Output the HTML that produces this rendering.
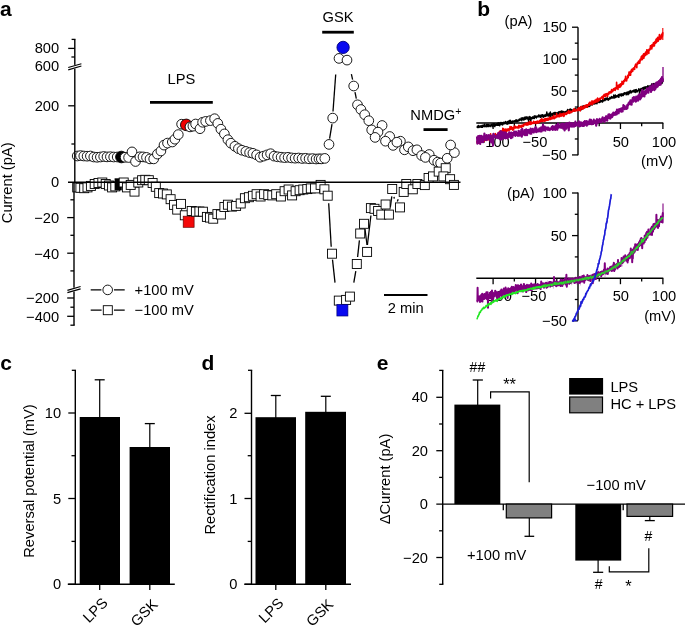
<!DOCTYPE html>
<html><head><meta charset="utf-8"><title>Figure</title>
<style>html,body{margin:0;padding:0;background:#fff;}body{width:685px;height:625px;overflow:hidden;font-family:"Liberation Sans",sans-serif;}svg{will-change:transform;}svg text{font-family:"Liberation Sans",sans-serif;}</style>
</head><body>
<svg width="685" height="625" viewBox="0 0 685 625" style="display:block" font-family="Liberation Sans, sans-serif" fill="#000">
<rect width="685" height="625" fill="#fff"/>
<text x="0.00" y="16.20" font-size="21" text-anchor="start" font-weight="bold" >a</text>
<text x="477.30" y="16.00" font-size="21" text-anchor="start" font-weight="bold" >b</text>
<text x="0.30" y="369.50" font-size="21" text-anchor="start" font-weight="bold" >c</text>
<text x="201.50" y="369.70" font-size="21" text-anchor="start" font-weight="bold" >d</text>
<text x="376.80" y="369.80" font-size="21" text-anchor="start" font-weight="bold" >e</text>
<text x="59.20" y="53.40" font-size="14.7" text-anchor="end" font-weight="normal" >800</text>
<text x="59.20" y="71.20" font-size="14.7" text-anchor="end" font-weight="normal" >600</text>
<text x="59.20" y="110.80" font-size="14.7" text-anchor="end" font-weight="normal" >200</text>
<text x="59.20" y="187.40" font-size="14.7" text-anchor="end" font-weight="normal" >0</text>
<text x="59.20" y="222.80" font-size="14.7" text-anchor="end" font-weight="normal" >−20</text>
<text x="59.20" y="258.50" font-size="14.7" text-anchor="end" font-weight="normal" >−40</text>
<text x="59.20" y="303.40" font-size="14.7" text-anchor="end" font-weight="normal" >−200</text>
<text x="59.20" y="322.40" font-size="14.7" text-anchor="end" font-weight="normal" >−400</text>
<text transform="translate(11.9,182.8) rotate(-90)" font-size="14.7" text-anchor="middle">Current (pA)</text>
<line x1="150.00" y1="102.40" x2="212.80" y2="102.40" stroke="#000" stroke-width="2.8" />
<text x="181.40" y="83.50" font-size="14.7" text-anchor="middle" font-weight="normal" >LPS</text>
<line x1="322.20" y1="32.20" x2="353.80" y2="32.20" stroke="#000" stroke-width="2.8" />
<text x="338.00" y="21.80" font-size="14.7" text-anchor="middle" font-weight="normal" >GSK</text>
<line x1="423.50" y1="129.60" x2="447.60" y2="129.60" stroke="#000" stroke-width="2.8" />
<text x="410.30" y="120.40" font-size="14.7" text-anchor="start" font-weight="normal" >NMDG<tspan font-size="10.5" dy="-5.0">+</tspan></text>
<line x1="384.00" y1="295.00" x2="427.50" y2="295.00" stroke="#000" stroke-width="2.2" />
<text x="405.70" y="312.80" font-size="14.7" text-anchor="middle" font-weight="normal" >2 min</text>
<line x1="90.70" y1="289.90" x2="124.70" y2="289.90" stroke="#000" stroke-width="1.2" />
<circle cx="107.7" cy="289.9" r="6.4" fill="#fff"/>
<circle cx="107.7" cy="289.9" r="4.8" fill="#fff" stroke="#000" stroke-width="0.9"/>
<line x1="90.70" y1="310.20" x2="124.70" y2="310.20" stroke="#000" stroke-width="1.2" />
<rect x="101.6" y="304.0" width="12.4" height="12.4" fill="#fff"/>
<rect x="103.3" y="305.7" width="9.0" height="9.0" fill="#fff" stroke="#000" stroke-width="0.9"/>
<text x="134.60" y="295.20" font-size="14.7" text-anchor="start" font-weight="normal" >+100 mV</text>
<text x="134.60" y="314.60" font-size="14.7" text-anchor="start" font-weight="normal" >−100 mV</text>
<line x1="329.60" y1="138.60" x2="332.00" y2="124.20" stroke="#000" stroke-width="1.3" />
<line x1="333.00" y1="111.50" x2="335.70" y2="74.50" stroke="#000" stroke-width="1.3" />
<line x1="351.40" y1="74.20" x2="352.60" y2="79.60" stroke="#000" stroke-width="1.3" />
<line x1="355.00" y1="92.20" x2="356.30" y2="98.60" stroke="#000" stroke-width="1.3" />
<circle cx="77.2" cy="156" r="4.85" fill="#fff" stroke="#000" stroke-width="0.9"/>
<circle cx="80.5" cy="155.6" r="4.85" fill="#fff" stroke="#000" stroke-width="0.9"/>
<circle cx="83.8" cy="156" r="4.85" fill="#fff" stroke="#000" stroke-width="0.9"/>
<circle cx="87.1" cy="156.2" r="4.85" fill="#fff" stroke="#000" stroke-width="0.9"/>
<circle cx="90.4" cy="156" r="4.85" fill="#fff" stroke="#000" stroke-width="0.9"/>
<circle cx="93.8" cy="157.0" r="4.85" fill="#fff" stroke="#000" stroke-width="0.9"/>
<circle cx="97.1" cy="157.3" r="4.85" fill="#fff" stroke="#000" stroke-width="0.9"/>
<circle cx="100.4" cy="157.0" r="4.85" fill="#fff" stroke="#000" stroke-width="0.9"/>
<circle cx="103.7" cy="156.5" r="4.85" fill="#fff" stroke="#000" stroke-width="0.9"/>
<circle cx="107" cy="156.9" r="4.85" fill="#fff" stroke="#000" stroke-width="0.9"/>
<circle cx="110.4" cy="156.7" r="4.85" fill="#fff" stroke="#000" stroke-width="0.9"/>
<circle cx="113.7" cy="157" r="4.85" fill="#fff" stroke="#000" stroke-width="0.9"/>
<circle cx="117.2" cy="157.0" r="4.85" fill="#fff" stroke="#000" stroke-width="0.9"/>
<circle cx="121.4" cy="157.0" r="5.8" fill="#000" stroke="#000" stroke-width="0.9"/>
<circle cx="125.1" cy="157.3" r="4.85" fill="#fff" stroke="#000" stroke-width="0.9"/>
<circle cx="128.6" cy="157.5" r="4.85" fill="#fff" stroke="#000" stroke-width="0.9"/>
<circle cx="132.0" cy="151.9" r="4.85" fill="#fff" stroke="#000" stroke-width="0.9"/>
<circle cx="135.5" cy="161.5" r="4.85" fill="#fff" stroke="#000" stroke-width="0.9"/>
<circle cx="139.9" cy="156.8" r="4.85" fill="#fff" stroke="#000" stroke-width="0.9"/>
<circle cx="143" cy="156.9" r="4.85" fill="#fff" stroke="#000" stroke-width="0.9"/>
<circle cx="146.5" cy="157.4" r="4.85" fill="#fff" stroke="#000" stroke-width="0.9"/>
<circle cx="150" cy="158.9" r="4.85" fill="#fff" stroke="#000" stroke-width="0.9"/>
<circle cx="153.7" cy="158.9" r="4.85" fill="#fff" stroke="#000" stroke-width="0.9"/>
<circle cx="157.4" cy="154.1" r="4.85" fill="#fff" stroke="#000" stroke-width="0.9"/>
<circle cx="160.9" cy="151" r="4.85" fill="#fff" stroke="#000" stroke-width="0.9"/>
<circle cx="164" cy="145.1" r="4.85" fill="#fff" stroke="#000" stroke-width="0.9"/>
<circle cx="167.5" cy="143.1" r="4.85" fill="#fff" stroke="#000" stroke-width="0.9"/>
<circle cx="172.3" cy="142" r="4.85" fill="#fff" stroke="#000" stroke-width="0.9"/>
<circle cx="174.9" cy="139.2" r="4.85" fill="#fff" stroke="#000" stroke-width="0.9"/>
<circle cx="178.3" cy="134.6" r="4.85" fill="#fff" stroke="#000" stroke-width="0.9"/>
<circle cx="181.6" cy="124.2" r="4.85" fill="#fff" stroke="#000" stroke-width="0.9"/>
<circle cx="186.3" cy="124.9" r="5.8" fill="#f00000" stroke="#000" stroke-width="0.9"/>
<circle cx="190.0" cy="126.9" r="4.85" fill="#fff" stroke="#000" stroke-width="0.9"/>
<circle cx="192.9" cy="126.2" r="4.85" fill="#fff" stroke="#000" stroke-width="0.9"/>
<circle cx="195.6" cy="124.0" r="4.85" fill="#fff" stroke="#000" stroke-width="0.9"/>
<circle cx="200" cy="128.7" r="4.85" fill="#fff" stroke="#000" stroke-width="0.9"/>
<circle cx="202.6" cy="122.3" r="4.85" fill="#fff" stroke="#000" stroke-width="0.9"/>
<circle cx="205.7" cy="121.4" r="4.85" fill="#fff" stroke="#000" stroke-width="0.9"/>
<circle cx="210.4" cy="120.6" r="4.85" fill="#fff" stroke="#000" stroke-width="0.9"/>
<circle cx="214.6" cy="118.7" r="4.85" fill="#fff" stroke="#000" stroke-width="0.9"/>
<circle cx="217.8" cy="123.4" r="4.85" fill="#fff" stroke="#000" stroke-width="0.9"/>
<circle cx="220.9" cy="129.2" r="4.85" fill="#fff" stroke="#000" stroke-width="0.9"/>
<circle cx="224.4" cy="133.9" r="4.85" fill="#fff" stroke="#000" stroke-width="0.9"/>
<circle cx="227.9" cy="139.7" r="4.85" fill="#fff" stroke="#000" stroke-width="0.9"/>
<circle cx="230.9" cy="143.2" r="4.85" fill="#fff" stroke="#000" stroke-width="0.9"/>
<circle cx="234.9" cy="146.3" r="4.85" fill="#fff" stroke="#000" stroke-width="0.9"/>
<circle cx="238.4" cy="148.6" r="4.85" fill="#fff" stroke="#000" stroke-width="0.9"/>
<circle cx="241.9" cy="150.2" r="4.85" fill="#fff" stroke="#000" stroke-width="0.9"/>
<circle cx="245.9" cy="151.4" r="4.85" fill="#fff" stroke="#000" stroke-width="0.9"/>
<circle cx="249.6" cy="152.6" r="4.85" fill="#fff" stroke="#000" stroke-width="0.9"/>
<circle cx="252.9" cy="153.3" r="4.85" fill="#fff" stroke="#000" stroke-width="0.9"/>
<circle cx="256.6" cy="154.9" r="4.85" fill="#fff" stroke="#000" stroke-width="0.9"/>
<circle cx="260.1" cy="157.2" r="4.85" fill="#fff" stroke="#000" stroke-width="0.9"/>
<circle cx="263.6" cy="156.1" r="4.85" fill="#fff" stroke="#000" stroke-width="0.9"/>
<circle cx="267.1" cy="154.9" r="4.85" fill="#fff" stroke="#000" stroke-width="0.9"/>
<circle cx="270.6" cy="153.7" r="4.85" fill="#fff" stroke="#000" stroke-width="0.9"/>
<circle cx="274.1" cy="156.1" r="4.85" fill="#fff" stroke="#000" stroke-width="0.9"/>
<circle cx="277.6" cy="156.8" r="4.85" fill="#fff" stroke="#000" stroke-width="0.9"/>
<circle cx="281.1" cy="157.2" r="4.85" fill="#fff" stroke="#000" stroke-width="0.9"/>
<circle cx="284.6" cy="157.6" r="4.85" fill="#fff" stroke="#000" stroke-width="0.9"/>
<circle cx="288.1" cy="157.3" r="4.85" fill="#fff" stroke="#000" stroke-width="0.9"/>
<circle cx="291.6" cy="157.9" r="4.85" fill="#fff" stroke="#000" stroke-width="0.9"/>
<circle cx="295.1" cy="158.2" r="4.85" fill="#fff" stroke="#000" stroke-width="0.9"/>
<circle cx="298.6" cy="158.0" r="4.85" fill="#fff" stroke="#000" stroke-width="0.9"/>
<circle cx="302.1" cy="158.5" r="4.85" fill="#fff" stroke="#000" stroke-width="0.9"/>
<circle cx="305.6" cy="158.3" r="4.85" fill="#fff" stroke="#000" stroke-width="0.9"/>
<circle cx="309.1" cy="158.8" r="4.85" fill="#fff" stroke="#000" stroke-width="0.9"/>
<circle cx="312.6" cy="158.6" r="4.85" fill="#fff" stroke="#000" stroke-width="0.9"/>
<circle cx="316.1" cy="159.0" r="4.85" fill="#fff" stroke="#000" stroke-width="0.9"/>
<circle cx="319.0" cy="158.8" r="4.85" fill="#fff" stroke="#000" stroke-width="0.9"/>
<circle cx="321.3" cy="158.9" r="4.85" fill="#fff" stroke="#000" stroke-width="0.9"/>
<circle cx="324.8" cy="158.4" r="4.85" fill="#fff" stroke="#000" stroke-width="0.9"/>
<circle cx="329" cy="144.4" r="4.85" fill="#fff" stroke="#000" stroke-width="0.9"/>
<circle cx="332.7" cy="118.1" r="4.85" fill="#fff" stroke="#000" stroke-width="0.9"/>
<circle cx="339" cy="58.4" r="4.85" fill="#fff" stroke="#000" stroke-width="0.9"/>
<circle cx="347" cy="60.1" r="4.85" fill="#fff" stroke="#000" stroke-width="0.9"/>
<circle cx="353.7" cy="86" r="4.85" fill="#fff" stroke="#000" stroke-width="0.9"/>
<circle cx="357.5" cy="104.8" r="4.85" fill="#fff" stroke="#000" stroke-width="0.9"/>
<circle cx="360.9" cy="109.5" r="4.85" fill="#fff" stroke="#000" stroke-width="0.9"/>
<circle cx="364.7" cy="114.7" r="4.85" fill="#fff" stroke="#000" stroke-width="0.9"/>
<circle cx="368.8" cy="120.7" r="4.85" fill="#fff" stroke="#000" stroke-width="0.9"/>
<circle cx="382.1" cy="125.5" r="4.85" fill="#fff" stroke="#000" stroke-width="0.9"/>
<circle cx="371.7" cy="129.9" r="4.85" fill="#fff" stroke="#000" stroke-width="0.9"/>
<circle cx="378" cy="132.1" r="4.85" fill="#fff" stroke="#000" stroke-width="0.9"/>
<circle cx="375.1" cy="137.4" r="4.85" fill="#fff" stroke="#000" stroke-width="0.9"/>
<circle cx="389.7" cy="136.5" r="4.85" fill="#fff" stroke="#000" stroke-width="0.9"/>
<circle cx="385.5" cy="141.2" r="4.85" fill="#fff" stroke="#000" stroke-width="0.9"/>
<circle cx="393.1" cy="145.4" r="4.85" fill="#fff" stroke="#000" stroke-width="0.9"/>
<circle cx="400.4" cy="141.2" r="4.85" fill="#fff" stroke="#000" stroke-width="0.9"/>
<circle cx="396.9" cy="142.2" r="4.85" fill="#fff" stroke="#000" stroke-width="0.9"/>
<circle cx="404.5" cy="149.8" r="4.85" fill="#fff" stroke="#000" stroke-width="0.9"/>
<circle cx="408.3" cy="146.9" r="4.85" fill="#fff" stroke="#000" stroke-width="0.9"/>
<circle cx="413" cy="150.7" r="4.85" fill="#fff" stroke="#000" stroke-width="0.9"/>
<circle cx="416.9" cy="149.8" r="4.85" fill="#fff" stroke="#000" stroke-width="0.9"/>
<circle cx="421.6" cy="155.5" r="4.85" fill="#fff" stroke="#000" stroke-width="0.9"/>
<circle cx="429.2" cy="154.5" r="4.85" fill="#fff" stroke="#000" stroke-width="0.9"/>
<circle cx="425.4" cy="157.4" r="4.85" fill="#fff" stroke="#000" stroke-width="0.9"/>
<circle cx="434" cy="160.2" r="4.85" fill="#fff" stroke="#000" stroke-width="0.9"/>
<circle cx="437.7" cy="162.1" r="4.85" fill="#fff" stroke="#000" stroke-width="0.9"/>
<circle cx="440.6" cy="163.1" r="4.85" fill="#fff" stroke="#000" stroke-width="0.9"/>
<circle cx="447.2" cy="158.3" r="4.85" fill="#fff" stroke="#000" stroke-width="0.9"/>
<circle cx="454.4" cy="152.6" r="4.85" fill="#fff" stroke="#000" stroke-width="0.9"/>
<circle cx="450.6" cy="145" r="4.85" fill="#fff" stroke="#000" stroke-width="0.9"/>
<circle cx="343.1" cy="47.4" r="6.15" fill="#0808f0" stroke="#00007a" stroke-width="0.9"/>
<line x1="328.70" y1="203.30" x2="331.20" y2="246.80" stroke="#000" stroke-width="1.3" />
<line x1="332.50" y1="259.60" x2="335.00" y2="282.60" stroke="#000" stroke-width="1.3" />
<line x1="353.80" y1="282.60" x2="355.80" y2="271.10" stroke="#000" stroke-width="1.3" />
<line x1="357.60" y1="257.00" x2="359.40" y2="240.40" stroke="#000" stroke-width="1.3" />
<line x1="367.00" y1="245.00" x2="365.00" y2="229.00" stroke="#000" stroke-width="1.3" />
<line x1="367.40" y1="245.00" x2="370.90" y2="215.50" stroke="#000" stroke-width="1.3" />
<line x1="390.30" y1="207.40" x2="391.80" y2="196.40" stroke="#000" stroke-width="1.3" />
<line x1="397.30" y1="201.50" x2="398.20" y2="199.20" stroke="#000" stroke-width="1.3" />
<line x1="394.30" y1="198.60" x2="394.00" y2="196.80" stroke="#000" stroke-width="1.3" />
<rect x="72.70" y="182.90" width="9.0" height="9.0" fill="#fff" stroke="#000" stroke-width="0.9"/>
<rect x="75.90" y="183.30" width="9.0" height="9.0" fill="#fff" stroke="#000" stroke-width="0.9"/>
<rect x="79.70" y="183.70" width="9.0" height="9.0" fill="#fff" stroke="#000" stroke-width="0.9"/>
<rect x="83.00" y="182.90" width="9.0" height="9.0" fill="#fff" stroke="#000" stroke-width="0.9"/>
<rect x="86.40" y="181.40" width="9.0" height="9.0" fill="#fff" stroke="#000" stroke-width="0.9"/>
<rect x="90.20" y="179.50" width="9.0" height="9.0" fill="#fff" stroke="#000" stroke-width="0.9"/>
<rect x="94.00" y="178.50" width="9.0" height="9.0" fill="#fff" stroke="#000" stroke-width="0.9"/>
<rect x="97.80" y="178.00" width="9.0" height="9.0" fill="#fff" stroke="#000" stroke-width="0.9"/>
<rect x="101.20" y="179.50" width="9.0" height="9.0" fill="#fff" stroke="#000" stroke-width="0.9"/>
<rect x="104.40" y="181.00" width="9.0" height="9.0" fill="#fff" stroke="#000" stroke-width="0.9"/>
<rect x="107.60" y="182.90" width="9.0" height="9.0" fill="#fff" stroke="#000" stroke-width="0.9"/>
<rect x="110.80" y="181.90" width="9.0" height="9.0" fill="#fff" stroke="#000" stroke-width="0.9"/>
<rect x="114.60" y="178.30" width="7.2" height="12" fill="#000"/>
<rect x="119.20" y="178.00" width="9.0" height="9.0" fill="#fff" stroke="#000" stroke-width="0.9"/>
<rect x="122.40" y="182.90" width="9.0" height="9.0" fill="#fff" stroke="#000" stroke-width="0.9"/>
<rect x="130.00" y="187.10" width="9.0" height="9.0" fill="#fff" stroke="#000" stroke-width="0.9"/>
<rect x="126.20" y="180.40" width="9.0" height="9.0" fill="#fff" stroke="#000" stroke-width="0.9"/>
<rect x="133.80" y="178.00" width="9.0" height="9.0" fill="#fff" stroke="#000" stroke-width="0.9"/>
<rect x="137.60" y="175.70" width="9.0" height="9.0" fill="#fff" stroke="#000" stroke-width="0.9"/>
<rect x="140.80" y="175.30" width="9.0" height="9.0" fill="#fff" stroke="#000" stroke-width="0.9"/>
<rect x="144.30" y="175.70" width="9.0" height="9.0" fill="#fff" stroke="#000" stroke-width="0.9"/>
<rect x="148.10" y="178.50" width="9.0" height="9.0" fill="#fff" stroke="#000" stroke-width="0.9"/>
<rect x="151.30" y="182.30" width="9.0" height="9.0" fill="#fff" stroke="#000" stroke-width="0.9"/>
<rect x="154.70" y="188.60" width="9.0" height="9.0" fill="#fff" stroke="#000" stroke-width="0.9"/>
<rect x="158.50" y="189.00" width="9.0" height="9.0" fill="#fff" stroke="#000" stroke-width="0.9"/>
<rect x="162.30" y="189.90" width="9.0" height="9.0" fill="#fff" stroke="#000" stroke-width="0.9"/>
<rect x="166.10" y="194.70" width="9.0" height="9.0" fill="#fff" stroke="#000" stroke-width="0.9"/>
<rect x="169.50" y="200.40" width="9.0" height="9.0" fill="#fff" stroke="#000" stroke-width="0.9"/>
<rect x="172.70" y="205.10" width="9.0" height="9.0" fill="#fff" stroke="#000" stroke-width="0.9"/>
<rect x="176.50" y="199.40" width="9.0" height="9.0" fill="#fff" stroke="#000" stroke-width="0.9"/>
<rect x="180.30" y="210.80" width="9.0" height="9.0" fill="#fff" stroke="#000" stroke-width="0.9"/>
<rect x="183.20" y="216.20" width="10.9" height="11.1" fill="#f40808" stroke="#600" stroke-width="0.7"/>
<rect x="187.20" y="206.50" width="9.0" height="9.0" fill="#fff" stroke="#000" stroke-width="0.9"/>
<rect x="191.40" y="207.20" width="9.0" height="9.0" fill="#fff" stroke="#000" stroke-width="0.9"/>
<rect x="194.90" y="207.00" width="9.0" height="9.0" fill="#fff" stroke="#000" stroke-width="0.9"/>
<rect x="198.40" y="207.20" width="9.0" height="9.0" fill="#fff" stroke="#000" stroke-width="0.9"/>
<rect x="202.40" y="212.40" width="9.0" height="9.0" fill="#fff" stroke="#000" stroke-width="0.9"/>
<rect x="205.50" y="213.10" width="9.0" height="9.0" fill="#fff" stroke="#000" stroke-width="0.9"/>
<rect x="208.70" y="214.20" width="9.0" height="9.0" fill="#fff" stroke="#000" stroke-width="0.9"/>
<rect x="212.90" y="209.60" width="9.0" height="9.0" fill="#fff" stroke="#000" stroke-width="0.9"/>
<rect x="216.40" y="210.00" width="9.0" height="9.0" fill="#fff" stroke="#000" stroke-width="0.9"/>
<rect x="219.90" y="202.50" width="9.0" height="9.0" fill="#fff" stroke="#000" stroke-width="0.9"/>
<rect x="223.40" y="200.20" width="9.0" height="9.0" fill="#fff" stroke="#000" stroke-width="0.9"/>
<rect x="227.40" y="202.10" width="9.0" height="9.0" fill="#fff" stroke="#000" stroke-width="0.9"/>
<rect x="231.60" y="201.40" width="9.0" height="9.0" fill="#fff" stroke="#000" stroke-width="0.9"/>
<rect x="236.20" y="199.00" width="9.0" height="9.0" fill="#fff" stroke="#000" stroke-width="0.9"/>
<rect x="240.40" y="193.70" width="9.0" height="9.0" fill="#fff" stroke="#000" stroke-width="0.9"/>
<rect x="244.40" y="192.70" width="9.0" height="9.0" fill="#fff" stroke="#000" stroke-width="0.9"/>
<rect x="248.40" y="191.30" width="9.0" height="9.0" fill="#fff" stroke="#000" stroke-width="0.9"/>
<rect x="252.10" y="189.70" width="9.0" height="9.0" fill="#fff" stroke="#000" stroke-width="0.9"/>
<rect x="256.10" y="192.00" width="9.0" height="9.0" fill="#fff" stroke="#000" stroke-width="0.9"/>
<rect x="259.60" y="189.70" width="9.0" height="9.0" fill="#fff" stroke="#000" stroke-width="0.9"/>
<rect x="263.80" y="190.40" width="9.0" height="9.0" fill="#fff" stroke="#000" stroke-width="0.9"/>
<rect x="267.80" y="190.90" width="9.0" height="9.0" fill="#fff" stroke="#000" stroke-width="0.9"/>
<rect x="271.70" y="189.70" width="9.0" height="9.0" fill="#fff" stroke="#000" stroke-width="0.9"/>
<rect x="276.40" y="192.00" width="9.0" height="9.0" fill="#fff" stroke="#000" stroke-width="0.9"/>
<rect x="280.10" y="186.70" width="9.0" height="9.0" fill="#fff" stroke="#000" stroke-width="0.9"/>
<rect x="284.10" y="185.00" width="9.0" height="9.0" fill="#fff" stroke="#000" stroke-width="0.9"/>
<rect x="287.60" y="190.90" width="9.0" height="9.0" fill="#fff" stroke="#000" stroke-width="0.9"/>
<rect x="291.10" y="186.70" width="9.0" height="9.0" fill="#fff" stroke="#000" stroke-width="0.9"/>
<rect x="295.10" y="185.70" width="9.0" height="9.0" fill="#fff" stroke="#000" stroke-width="0.9"/>
<rect x="298.80" y="185.00" width="9.0" height="9.0" fill="#fff" stroke="#000" stroke-width="0.9"/>
<rect x="302.80" y="184.60" width="9.0" height="9.0" fill="#fff" stroke="#000" stroke-width="0.9"/>
<rect x="306.30" y="183.90" width="9.0" height="9.0" fill="#fff" stroke="#000" stroke-width="0.9"/>
<rect x="310.50" y="183.90" width="9.0" height="9.0" fill="#fff" stroke="#000" stroke-width="0.9"/>
<rect x="316.10" y="180.40" width="9.0" height="9.0" fill="#fff" stroke="#000" stroke-width="0.9"/>
<rect x="319.90" y="184.80" width="9.0" height="9.0" fill="#fff" stroke="#000" stroke-width="0.9"/>
<rect x="323.20" y="191.20" width="9.0" height="9.0" fill="#fff" stroke="#000" stroke-width="0.9"/>
<rect x="327.50" y="249.20" width="9.0" height="9.0" fill="#fff" stroke="#000" stroke-width="0.9"/>
<rect x="334.30" y="296.10" width="9.0" height="9.0" fill="#fff" stroke="#000" stroke-width="0.9"/>
<rect x="341.60" y="295.40" width="9.0" height="9.0" fill="#fff" stroke="#000" stroke-width="0.9"/>
<rect x="336.90" y="304.60" width="11.0" height="11.4" fill="#0808f0" stroke="#00007a" stroke-width="0.7"/>
<rect x="345.40" y="292.10" width="9.0" height="9.0" fill="#fff" stroke="#000" stroke-width="0.9"/>
<rect x="352.30" y="259.50" width="9.0" height="9.0" fill="#fff" stroke="#000" stroke-width="0.9"/>
<rect x="362.60" y="247.40" width="9.0" height="9.0" fill="#fff" stroke="#000" stroke-width="0.9"/>
<rect x="355.70" y="229.00" width="9.0" height="9.0" fill="#fff" stroke="#000" stroke-width="0.9"/>
<rect x="359.50" y="219.30" width="9.0" height="9.0" fill="#fff" stroke="#000" stroke-width="0.9"/>
<rect x="366.40" y="203.60" width="9.0" height="9.0" fill="#fff" stroke="#000" stroke-width="0.9"/>
<rect x="370.00" y="204.30" width="9.0" height="9.0" fill="#fff" stroke="#000" stroke-width="0.9"/>
<rect x="373.60" y="206.50" width="9.0" height="9.0" fill="#fff" stroke="#000" stroke-width="0.9"/>
<rect x="376.80" y="210.10" width="9.0" height="9.0" fill="#fff" stroke="#000" stroke-width="0.9"/>
<rect x="384.40" y="210.10" width="9.0" height="9.0" fill="#fff" stroke="#000" stroke-width="0.9"/>
<rect x="381.10" y="200.00" width="9.0" height="9.0" fill="#fff" stroke="#000" stroke-width="0.9"/>
<rect x="395.50" y="202.90" width="9.0" height="9.0" fill="#fff" stroke="#000" stroke-width="0.9"/>
<rect x="387.70" y="184.50" width="9.0" height="9.0" fill="#fff" stroke="#000" stroke-width="0.9"/>
<rect x="399.20" y="187.40" width="9.0" height="9.0" fill="#fff" stroke="#000" stroke-width="0.9"/>
<rect x="401.80" y="179.50" width="9.0" height="9.0" fill="#fff" stroke="#000" stroke-width="0.9"/>
<rect x="408.30" y="184.80" width="9.0" height="9.0" fill="#fff" stroke="#000" stroke-width="0.9"/>
<rect x="412.90" y="179.50" width="9.0" height="9.0" fill="#fff" stroke="#000" stroke-width="0.9"/>
<rect x="420.30" y="180.60" width="9.0" height="9.0" fill="#fff" stroke="#000" stroke-width="0.9"/>
<rect x="424.10" y="173.50" width="9.0" height="9.0" fill="#fff" stroke="#000" stroke-width="0.9"/>
<rect x="428.50" y="171.90" width="9.0" height="9.0" fill="#fff" stroke="#000" stroke-width="0.9"/>
<rect x="434.20" y="167.10" width="9.0" height="9.0" fill="#fff" stroke="#000" stroke-width="0.9"/>
<rect x="441.20" y="163.70" width="9.0" height="9.0" fill="#fff" stroke="#000" stroke-width="0.9"/>
<rect x="438.90" y="171.90" width="9.0" height="9.0" fill="#fff" stroke="#000" stroke-width="0.9"/>
<rect x="445.60" y="174.70" width="9.0" height="9.0" fill="#fff" stroke="#000" stroke-width="0.9"/>
<rect x="449.40" y="180.40" width="9.0" height="9.0" fill="#fff" stroke="#000" stroke-width="0.9"/>
<line x1="74.80" y1="39.40" x2="74.80" y2="182.30" stroke="#000" stroke-width="1.4" />
<line x1="74.00" y1="182.30" x2="74.00" y2="325.20" stroke="#000" stroke-width="1.4" />
<line x1="71.60" y1="39.40" x2="75.50" y2="39.40" stroke="#000" stroke-width="1.3" />
<line x1="70.40" y1="325.20" x2="74.70" y2="325.20" stroke="#000" stroke-width="1.3" />
<line x1="68.20" y1="48.40" x2="74.80" y2="48.40" stroke="#000" stroke-width="1.3" />
<line x1="71.40" y1="57.00" x2="74.80" y2="57.00" stroke="#000" stroke-width="1.3" />
<line x1="68.20" y1="105.80" x2="74.80" y2="105.80" stroke="#000" stroke-width="1.3" />
<line x1="71.40" y1="144.00" x2="74.80" y2="144.00" stroke="#000" stroke-width="1.3" />
<line x1="68.00" y1="182.30" x2="460.50" y2="182.30" stroke="#000" stroke-width="1.4" />
<line x1="70.40" y1="199.80" x2="74.00" y2="199.80" stroke="#000" stroke-width="1.3" />
<line x1="70.40" y1="235.30" x2="74.00" y2="235.30" stroke="#000" stroke-width="1.3" />
<line x1="70.40" y1="270.90" x2="74.00" y2="270.90" stroke="#000" stroke-width="1.3" />
<line x1="67.20" y1="217.60" x2="74.00" y2="217.60" stroke="#000" stroke-width="1.3" />
<line x1="67.20" y1="253.20" x2="74.00" y2="253.20" stroke="#000" stroke-width="1.3" />
<line x1="67.20" y1="298.00" x2="74.00" y2="298.00" stroke="#000" stroke-width="1.3" />
<line x1="70.40" y1="307.20" x2="74.00" y2="307.20" stroke="#000" stroke-width="1.3" />
<line x1="67.20" y1="316.30" x2="74.00" y2="316.30" stroke="#000" stroke-width="1.3" />
<rect x="72.8" y="64.89999999999999" width="4" height="3.8" fill="#fff"/>
<line x1="68.20" y1="67.55" x2="81.40" y2="63.75" stroke="#000" stroke-width="1.15" />
<line x1="68.20" y1="69.85" x2="81.40" y2="66.05" stroke="#000" stroke-width="1.15" />
<rect x="72.0" y="287.70000000000005" width="4" height="3.8" fill="#fff"/>
<line x1="67.40" y1="290.35" x2="80.60" y2="286.55" stroke="#000" stroke-width="1.15" />
<line x1="67.40" y1="292.65" x2="80.60" y2="288.85" stroke="#000" stroke-width="1.15" />
<line x1="578.00" y1="27.20" x2="578.00" y2="155.20" stroke="#000" stroke-width="1.4" />
<line x1="476.30" y1="123.00" x2="663.30" y2="123.00" stroke="#000" stroke-width="1.4" />
<line x1="572.00" y1="154.93" x2="578.00" y2="154.93" stroke="#000" stroke-width="1.3" />
<line x1="574.80" y1="138.97" x2="578.00" y2="138.97" stroke="#000" stroke-width="1.3" />
<line x1="574.80" y1="107.03" x2="578.00" y2="107.03" stroke="#000" stroke-width="1.3" />
<line x1="572.00" y1="91.07" x2="578.00" y2="91.07" stroke="#000" stroke-width="1.3" />
<line x1="574.80" y1="75.10" x2="578.00" y2="75.10" stroke="#000" stroke-width="1.3" />
<line x1="572.00" y1="59.14" x2="578.00" y2="59.14" stroke="#000" stroke-width="1.3" />
<line x1="574.80" y1="43.17" x2="578.00" y2="43.17" stroke="#000" stroke-width="1.3" />
<line x1="572.00" y1="27.21" x2="578.00" y2="27.21" stroke="#000" stroke-width="1.3" />
<line x1="493.10" y1="123.00" x2="493.10" y2="129.00" stroke="#000" stroke-width="1.3" />
<line x1="514.33" y1="123.00" x2="514.33" y2="126.20" stroke="#000" stroke-width="1.3" />
<line x1="535.55" y1="123.00" x2="535.55" y2="129.00" stroke="#000" stroke-width="1.3" />
<line x1="556.77" y1="123.00" x2="556.77" y2="126.20" stroke="#000" stroke-width="1.3" />
<line x1="599.23" y1="123.00" x2="599.23" y2="126.20" stroke="#000" stroke-width="1.3" />
<line x1="620.45" y1="123.00" x2="620.45" y2="129.00" stroke="#000" stroke-width="1.3" />
<line x1="641.67" y1="123.00" x2="641.67" y2="126.20" stroke="#000" stroke-width="1.3" />
<line x1="662.90" y1="123.00" x2="662.90" y2="129.00" stroke="#000" stroke-width="1.3" />
<text x="567.00" y="32.41" font-size="14.7" text-anchor="end" font-weight="normal" >150</text>
<text x="567.00" y="64.34" font-size="14.7" text-anchor="end" font-weight="normal" >100</text>
<text x="567.00" y="96.27" font-size="14.7" text-anchor="end" font-weight="normal" >50</text>
<text x="567.00" y="160.13" font-size="14.7" text-anchor="end" font-weight="normal" >−50</text>
<text x="504.60" y="25.60" font-size="14.7" text-anchor="start" font-weight="normal" >(pA)</text>
<text x="641.00" y="165.80" font-size="14.7" text-anchor="start" font-weight="normal" >(mV)</text>
<text x="493.20" y="147.40" font-size="14.7" text-anchor="middle" font-weight="normal" >−100</text>
<text x="535.00" y="147.40" font-size="14.7" text-anchor="middle" font-weight="normal" >−50</text>
<text x="620.80" y="147.40" font-size="14.7" text-anchor="middle" font-weight="normal" >50</text>
<text x="664.00" y="147.40" font-size="14.7" text-anchor="middle" font-weight="normal" >100</text>
<path d="M477.0,126.8 L477.2,127.3 L477.4,126.3 L477.6,126.8 L477.8,127.6 L478.0,127.0 L478.2,125.7 L478.4,127.4 L478.6,125.6 L478.8,125.5 L479.0,127.0 L479.2,126.7 L479.4,126.9 L479.6,126.9 L479.8,127.0 L480.0,127.4 L480.2,126.3 L480.4,126.5 L480.6,126.2 L480.8,125.8 L481.0,125.9 L481.2,126.6 L481.4,126.5 L481.6,127.3 L481.8,126.3 L482.0,125.8 L482.2,125.3 L482.4,126.9 L482.6,127.3 L482.8,126.5 L483.0,126.6 L483.2,125.8 L483.4,125.5 L483.6,125.8 L483.8,125.1 L484.0,126.3 L484.2,124.7 L484.4,124.3 L484.6,124.2 L484.8,126.7 L485.0,126.1 L485.2,126.2 L485.4,126.3 L485.6,126.3 L485.8,126.5 L486.0,126.2 L486.2,126.4 L486.4,124.5 L486.6,124.8 L486.8,126.8 L487.0,125.9 L487.2,126.1 L487.4,124.6 L487.6,125.3 L487.8,125.0 L488.0,126.2 L488.2,124.6 L488.4,125.4 L488.6,126.5 L488.8,124.7 L489.0,124.9 L489.2,125.8 L489.4,125.6 L489.6,125.5 L489.8,125.0 L490.0,125.5 L490.2,126.5 L490.4,125.6 L490.6,124.9 L490.8,124.9 L491.0,124.9 L491.2,125.4 L491.4,124.3 L491.6,125.3 L491.8,124.8 L492.0,125.5 L492.2,126.7 L492.4,125.2 L492.6,124.8 L492.8,124.9 L493.0,125.6 L493.2,124.1 L493.4,125.4 L493.6,125.9 L493.8,124.6 L494.0,125.2 L494.2,125.5 L494.4,123.7 L494.6,124.8 L494.8,126.6 L495.0,125.2 L495.2,124.7 L495.4,125.3 L495.6,124.3 L495.8,125.2 L496.0,124.3 L496.2,124.6 L496.4,124.9 L496.6,124.9 L496.8,123.7 L497.0,125.3 L497.2,124.9 L497.4,124.3 L497.6,123.5 L497.8,123.6 L498.0,125.3 L498.2,122.8 L498.4,125.2 L498.6,124.4 L498.8,124.4 L499.0,124.9 L499.2,125.1 L499.4,123.5 L499.6,125.7 L499.8,125.0 L500.0,123.8 L500.2,122.6 L500.4,124.5 L500.6,123.9 L500.8,124.4 L501.0,123.8 L501.2,124.5 L501.4,123.3 L501.6,124.4 L501.8,122.4 L502.0,124.4 L502.2,123.5 L502.4,123.6 L502.6,124.9 L502.8,123.6 L503.0,123.4 L503.2,122.7 L503.4,122.4 L503.6,123.1 L503.8,123.5 L504.0,124.0 L504.2,122.3 L504.4,122.9 L504.6,122.7 L504.8,122.7 L505.0,122.4 L505.2,123.5 L505.4,122.7 L505.6,121.8 L505.8,121.5 L506.0,122.4 L506.2,123.6 L506.4,123.5 L506.6,123.9 L506.8,123.3 L507.0,123.5 L507.2,123.7 L507.4,124.1 L507.6,121.5 L507.8,122.0 L508.0,123.1 L508.2,122.9 L508.4,123.1 L508.6,122.7 L508.8,123.7 L509.0,120.7 L509.2,122.1 L509.4,121.7 L509.6,121.6 L509.8,122.6 L510.0,120.3 L510.2,123.3 L510.4,122.3 L510.6,120.6 L510.8,122.7 L511.0,122.8 L511.2,123.1 L511.4,122.0 L511.6,121.9 L511.8,123.2 L512.0,122.4 L512.2,122.8 L512.4,122.3 L512.6,120.9 L512.8,121.7 L513.0,121.4 L513.2,121.8 L513.4,121.7 L513.6,121.6 L513.8,121.0 L514.0,121.8 L514.2,120.7 L514.4,121.1 L514.6,121.1 L514.8,121.1 L515.0,121.3 L515.2,121.7 L515.4,121.2 L515.6,120.2 L515.8,120.1 L516.0,121.3 L516.2,120.0 L516.4,121.7 L516.6,120.1 L516.8,120.9 L517.0,121.5 L517.2,121.0 L517.4,121.6 L517.6,121.0 L517.8,120.2 L518.0,120.8 L518.2,120.6 L518.4,120.8 L518.6,121.0 L518.8,119.9 L519.0,119.5 L519.2,120.6 L519.4,119.1 L519.6,120.0 L519.8,120.4 L520.0,119.8 L520.2,119.9 L520.4,119.8 L520.6,118.9 L520.8,119.2 L521.0,119.3 L521.2,118.1 L521.4,119.9 L521.6,119.4 L521.8,120.7 L522.0,119.7 L522.2,119.2 L522.4,118.0 L522.6,117.9 L522.8,119.2 L523.0,117.9 L523.2,118.4 L523.4,119.1 L523.6,119.2 L523.8,120.1 L524.0,119.8 L524.2,118.2 L524.4,117.2 L524.6,119.2 L524.8,117.7 L525.0,118.6 L525.2,118.5 L525.4,119.2 L525.6,118.9 L525.8,118.5 L526.0,116.7 L526.2,117.5 L526.4,118.7 L526.6,118.3 L526.8,118.3 L527.0,118.4 L527.2,117.0 L527.4,118.9 L527.6,118.5 L527.8,118.0 L528.0,117.8 L528.2,117.9 L528.4,118.3 L528.6,121.9 L528.8,117.9 L529.0,118.9 L529.2,116.4 L529.4,118.4 L529.6,119.6 L529.8,118.5 L530.0,118.6 L530.2,118.2 L530.4,117.1 L530.6,118.0 L530.8,121.2 L531.0,118.6 L531.2,117.7 L531.4,118.1 L531.6,118.1 L531.8,118.8 L532.0,117.6 L532.2,118.5 L532.4,117.0 L532.6,117.0 L532.8,117.9 L533.0,116.9 L533.2,117.9 L533.4,118.4 L533.6,118.1 L533.8,117.3 L534.0,117.8 L534.2,116.0 L534.4,118.4 L534.6,116.1 L534.8,116.0 L535.0,117.0 L535.2,116.8 L535.4,117.0 L535.6,116.0 L535.8,117.3 L536.0,116.7 L536.2,116.5 L536.4,117.9 L536.6,116.5 L536.8,116.3 L537.0,116.9 L537.2,117.0 L537.4,116.2 L537.6,116.6 L537.8,116.2 L538.0,116.7 L538.2,116.3 L538.4,116.7 L538.6,115.1 L538.8,115.8 L539.0,115.6 L539.2,116.8 L539.4,116.8 L539.6,116.5 L539.8,115.3 L540.0,116.2 L540.2,116.1 L540.4,116.7 L540.6,117.4 L540.8,115.2 L541.0,117.1 L541.2,116.2 L541.4,116.0 L541.6,115.9 L541.8,116.5 L542.0,114.7 L542.2,116.2 L542.4,116.1 L542.6,116.8 L542.8,115.4 L543.0,114.9 L543.2,115.9 L543.4,115.8 L543.6,117.2 L543.8,116.0 L544.0,115.9 L544.2,115.7 L544.4,115.7 L544.6,115.1 L544.8,116.2 L545.0,115.2 L545.2,116.1 L545.4,115.9 L545.6,114.8 L545.8,116.3 L546.0,114.6 L546.2,114.2 L546.4,115.2 L546.6,114.4 L546.8,111.9 L547.0,114.7 L547.2,115.7 L547.4,115.4 L547.6,113.9 L547.8,115.6 L548.0,114.8 L548.2,115.1 L548.4,116.0 L548.6,114.4 L548.8,114.8 L549.0,113.9 L549.2,113.3 L549.4,115.1 L549.6,116.5 L549.8,115.3 L550.0,114.9 L550.2,114.3 L550.4,112.1 L550.6,115.2 L550.8,117.9 L551.0,114.1 L551.2,113.8 L551.4,114.4 L551.6,114.4 L551.8,114.7 L552.0,114.2 L552.2,113.5 L552.4,115.2 L552.6,115.0 L552.8,114.4 L553.0,114.4 L553.2,115.5 L553.4,113.0 L553.6,114.7 L553.8,114.3 L554.0,114.0 L554.2,113.9 L554.4,112.4 L554.6,114.8 L554.8,113.6 L555.0,113.3 L555.2,114.3 L555.4,114.6 L555.6,112.6 L555.8,113.8 L556.0,114.4 L556.2,113.2 L556.4,113.9 L556.6,114.0 L556.8,113.3 L557.0,114.0 L557.2,112.4 L557.4,113.1 L557.6,114.0 L557.8,113.7 L558.0,114.4 L558.2,114.1 L558.4,113.4 L558.6,114.7 L558.8,111.8 L559.0,113.8 L559.2,113.5 L559.4,113.1 L559.6,113.7 L559.8,112.9 L560.0,111.5 L560.2,113.2 L560.4,112.3 L560.6,112.7 L560.8,112.3 L561.0,113.5 L561.2,113.9 L561.4,110.9 L561.6,113.9 L561.8,112.9 L562.0,111.5 L562.2,111.2 L562.4,112.6 L562.6,112.9 L562.8,112.5 L563.0,113.2 L563.2,112.1 L563.4,112.7 L563.6,111.6 L563.8,112.4 L564.0,112.0 L564.2,112.2 L564.4,112.7 L564.6,111.9 L564.8,112.9 L565.0,112.5 L565.2,111.9 L565.4,111.6 L565.6,112.2 L565.8,112.0 L566.0,111.8 L566.2,111.4 L566.4,111.4 L566.6,111.1 L566.8,111.8 L567.0,111.1 L567.2,112.3 L567.4,112.9 L567.6,109.6 L567.8,111.2 L568.0,110.8 L568.2,110.1 L568.4,111.8 L568.6,110.2 L568.8,111.2 L569.0,110.1 L569.2,109.8 L569.4,110.4 L569.6,111.5 L569.8,109.3 L570.0,110.6 L570.2,111.4 L570.4,109.0 L570.6,112.5 L570.8,110.0 L571.0,111.3 L571.2,110.3 L571.4,110.7 L571.6,110.1 L571.8,109.4 L572.0,111.2 L572.2,110.5 L572.4,111.0 L572.6,110.7 L572.8,110.6 L573.0,111.1 L573.2,110.4 L573.4,110.3 L573.6,109.8 L573.8,109.6 L574.0,109.6 L574.2,109.1 L574.4,110.4 L574.6,110.9 L574.8,110.0 L575.0,109.9 L575.2,108.6 L575.4,109.4 L575.6,109.7 L575.8,110.3 L576.0,110.0 L576.2,109.4 L576.4,109.3 L576.6,109.2 L576.8,109.4 L577.0,109.7 L577.2,109.2 L577.4,109.1 L577.6,107.9 L577.8,107.4 L578.0,109.2 L578.2,109.4 L578.4,107.4 L578.6,108.9 L578.8,108.5 L579.0,109.0 L579.2,108.4 L579.4,108.8 L579.6,109.1 L579.8,109.0 L580.0,108.6 L580.2,107.8 L580.4,107.0 L580.6,108.9 L580.8,108.7 L581.0,108.7 L581.2,107.4 L581.4,109.7 L581.6,109.2 L581.8,108.0 L582.0,107.2 L582.2,106.9 L582.4,108.5 L582.6,107.5 L582.8,107.2 L583.0,106.1 L583.2,105.7 L583.4,107.2 L583.6,107.2 L583.8,106.5 L584.0,106.5 L584.2,107.3 L584.4,107.7 L584.6,107.4 L584.8,106.7 L585.0,106.8 L585.2,107.5 L585.4,105.9 L585.6,105.9 L585.8,106.4 L586.0,106.7 L586.2,107.0 L586.4,105.2 L586.6,107.1 L586.8,106.0 L587.0,105.4 L587.2,105.2 L587.4,105.8 L587.6,107.2 L587.8,105.2 L588.0,105.8 L588.2,106.3 L588.4,105.5 L588.6,105.6 L588.8,106.2 L589.0,105.3 L589.2,104.7 L589.4,106.4 L589.6,105.4 L589.8,106.2 L590.0,104.9 L590.2,104.7 L590.4,103.9 L590.6,104.6 L590.8,104.7 L591.0,104.0 L591.2,103.1 L591.4,103.6 L591.6,104.0 L591.8,104.0 L592.0,105.1 L592.2,104.1 L592.4,103.8 L592.6,103.8 L592.8,102.1 L593.0,104.2 L593.2,103.2 L593.4,102.8 L593.6,102.7 L593.8,102.1 L594.0,103.6 L594.2,102.2 L594.4,103.6 L594.6,103.3 L594.8,104.0 L595.0,103.1 L595.2,103.0 L595.4,102.3 L595.6,103.1 L595.8,102.3 L596.0,101.7 L596.2,103.4 L596.4,102.8 L596.6,103.0 L596.8,101.0 L597.0,103.7 L597.2,101.3 L597.4,102.2 L597.6,102.1 L597.8,101.1 L598.0,100.9 L598.2,102.1 L598.4,101.9 L598.6,101.0 L598.8,102.3 L599.0,101.3 L599.2,102.6 L599.4,102.2 L599.6,101.2 L599.8,102.0 L600.0,101.4 L600.2,100.5 L600.4,102.0 L600.6,101.2 L600.8,100.7 L601.0,101.4 L601.2,100.8 L601.4,101.6 L601.6,100.7 L601.8,101.0 L602.0,101.3 L602.2,100.4 L602.4,102.1 L602.6,100.2 L602.8,99.6 L603.0,101.4 L603.2,100.8 L603.4,99.7 L603.6,99.6 L603.8,100.3 L604.0,99.6 L604.2,100.1 L604.4,100.4 L604.6,98.8 L604.8,100.7 L605.0,98.5 L605.2,99.4 L605.4,99.2 L605.6,100.0 L605.8,98.8 L606.0,98.4 L606.2,99.5 L606.4,98.4 L606.6,99.6 L606.8,98.8 L607.0,98.7 L607.2,97.7 L607.4,99.0 L607.6,99.5 L607.8,98.6 L608.0,99.2 L608.2,100.2 L608.4,99.7 L608.6,99.8 L608.8,98.4 L609.0,98.8 L609.2,99.4 L609.4,98.2 L609.6,98.4 L609.8,97.9 L610.0,97.4 L610.2,98.7 L610.4,98.8 L610.6,98.6 L610.8,97.5 L611.0,97.4 L611.2,98.1 L611.4,97.9 L611.6,96.6 L611.8,97.1 L612.0,97.0 L612.2,98.1 L612.4,97.9 L612.6,97.0 L612.8,96.9 L613.0,96.7 L613.2,96.7 L613.4,97.6 L613.6,98.0 L613.8,95.1 L614.0,97.1 L614.2,97.6 L614.4,97.9 L614.6,97.5 L614.8,97.3 L615.0,95.7 L615.2,96.5 L615.4,95.1 L615.6,97.4 L615.8,95.5 L616.0,97.1 L616.2,96.2 L616.4,96.4 L616.6,96.9 L616.8,96.2 L617.0,95.7 L617.2,96.4 L617.4,96.7 L617.6,95.6 L617.8,95.4 L618.0,96.1 L618.2,96.1 L618.4,94.7 L618.6,95.8 L618.8,97.3 L619.0,96.0 L619.2,94.2 L619.4,95.0 L619.6,95.2 L619.8,95.5 L620.0,94.7 L620.2,94.2 L620.4,95.2 L620.6,94.9 L620.8,95.5 L621.0,94.0 L621.2,95.3 L621.4,96.0 L621.6,94.1 L621.8,95.7 L622.0,93.9 L622.2,94.4 L622.4,94.4 L622.6,94.1 L622.8,94.0 L623.0,94.5 L623.2,95.5 L623.4,95.3 L623.6,93.5 L623.8,93.2 L624.0,93.3 L624.2,94.3 L624.4,92.7 L624.6,92.8 L624.8,93.6 L625.0,93.3 L625.2,93.6 L625.4,93.5 L625.6,93.7 L625.8,92.8 L626.0,93.6 L626.2,94.8 L626.4,93.5 L626.6,92.7 L626.8,92.2 L627.0,93.5 L627.2,93.2 L627.4,94.1 L627.6,93.3 L627.8,92.1 L628.0,94.7 L628.2,93.1 L628.4,92.8 L628.6,92.1 L628.8,94.0 L629.0,91.6 L629.2,92.5 L629.4,91.9 L629.6,93.0 L629.8,92.9 L630.0,91.9 L630.2,90.5 L630.4,92.3 L630.6,92.0 L630.8,92.8 L631.0,91.4 L631.2,91.2 L631.4,92.8 L631.6,91.5 L631.8,92.5 L632.0,92.0 L632.2,91.2 L632.4,90.8 L632.6,91.1 L632.8,91.1 L633.0,91.5 L633.2,91.2 L633.4,91.6 L633.6,91.2 L633.8,91.7 L634.0,89.9 L634.2,91.9 L634.4,90.2 L634.6,91.0 L634.8,91.9 L635.0,90.1 L635.2,89.8 L635.4,91.4 L635.6,91.1 L635.8,92.5 L636.0,90.5 L636.2,89.5 L636.4,89.9 L636.6,90.5 L636.8,90.8 L637.0,90.8 L637.2,90.7 L637.4,91.8 L637.6,91.7 L637.8,90.5 L638.0,90.5 L638.2,90.3 L638.4,89.8 L638.6,89.9 L638.8,88.8 L639.0,89.3 L639.2,89.2 L639.4,89.9 L639.6,94.1 L639.8,90.9 L640.0,89.9 L640.2,89.3 L640.4,90.8 L640.6,89.4 L640.8,89.6 L641.0,88.6 L641.2,89.9 L641.4,88.8 L641.6,90.1 L641.8,88.4 L642.0,90.1 L642.2,88.6 L642.4,88.9 L642.6,88.7 L642.8,87.7 L643.0,90.2 L643.2,88.7 L643.4,87.4 L643.6,89.3 L643.8,87.4 L644.0,87.7 L644.2,89.0 L644.4,88.4 L644.6,88.9 L644.8,86.9 L645.0,88.7 L645.2,86.8 L645.4,88.8 L645.6,86.9 L645.8,87.7 L646.0,88.1 L646.2,88.1 L646.4,88.8 L646.6,86.8 L646.8,86.9 L647.0,87.4 L647.2,88.5 L647.4,88.4 L647.6,87.9 L647.8,85.8 L648.0,86.4 L648.2,86.1 L648.4,87.1 L648.6,87.3 L648.8,87.8 L649.0,86.0 L649.2,87.1 L649.4,87.2 L649.6,86.5 L649.8,86.5 L650.0,85.9 L650.2,85.9 L650.4,86.2 L650.6,86.6 L650.8,85.4 L651.0,86.1 L651.2,85.2 L651.4,86.6 L651.6,84.1 L651.8,85.8 L652.0,86.0 L652.2,84.2 L652.4,84.9 L652.6,85.6 L652.8,85.2 L653.0,86.5 L653.2,86.4 L653.4,84.0 L653.6,83.6 L653.8,84.5 L654.0,85.0 L654.2,84.8 L654.4,84.9 L654.6,85.9 L654.8,83.7 L655.0,84.7 L655.2,83.3 L655.4,84.7 L655.6,84.4 L655.8,83.9 L656.0,83.6 L656.2,84.5 L656.4,84.3 L656.6,83.5 L656.8,83.9 L657.0,83.7 L657.2,83.6 L657.4,85.1 L657.6,83.9 L657.8,84.4 L658.0,82.3 L658.2,84.6 L658.4,84.1 L658.6,82.5 L658.8,83.2 L659.0,82.7 L659.2,82.6 L659.4,82.6 L659.6,81.9 L659.8,82.6 L660.0,83.3 L660.2,82.9 L660.4,81.9 L660.6,81.8 L660.8,83.7 L661.0,83.6 L661.2,82.7 L661.4,81.5 L661.6,82.1 L661.8,80.5 L662.0,83.5 L662.2,82.3 L662.4,82.1 L662.6,81.6 L662.8,80.2 L663.0,81.7" fill="none" stroke="#000" stroke-width="1.5" stroke-linejoin="round" opacity="1"/>
<path d="M477.0,140.9 L477.2,142.9 L477.4,141.5 L477.6,142.8 L477.8,141.9 L478.0,142.7 L478.2,143.3 L478.4,142.3 L478.6,142.1 L478.8,141.7 L479.0,142.3 L479.2,142.1 L479.4,140.6 L479.6,141.4 L479.8,140.6 L480.0,141.6 L480.2,140.6 L480.4,141.1 L480.6,141.2 L480.8,141.5 L481.0,140.5 L481.2,140.6 L481.4,141.2 L481.6,141.7 L481.8,140.7 L482.0,141.5 L482.2,141.4 L482.4,139.9 L482.6,141.5 L482.8,141.8 L483.0,140.9 L483.2,139.2 L483.4,139.9 L483.6,140.6 L483.8,139.8 L484.0,139.9 L484.2,141.3 L484.4,139.3 L484.6,139.1 L484.8,138.7 L485.0,139.1 L485.2,140.3 L485.4,138.4 L485.6,138.3 L485.8,139.2 L486.0,138.8 L486.2,139.3 L486.4,139.6 L486.6,139.7 L486.8,139.7 L487.0,137.1 L487.2,139.2 L487.4,137.8 L487.6,138.6 L487.8,137.7 L488.0,136.3 L488.2,139.2 L488.4,138.8 L488.6,136.7 L488.8,139.9 L489.0,137.5 L489.2,137.4 L489.4,137.3 L489.6,135.8 L489.8,138.1 L490.0,139.0 L490.2,137.3 L490.4,138.1 L490.6,133.8 L490.8,136.9 L491.0,136.8 L491.2,135.4 L491.4,136.6 L491.6,136.2 L491.8,136.8 L492.0,136.5 L492.2,137.9 L492.4,137.6 L492.6,136.4 L492.8,136.1 L493.0,136.3 L493.2,136.1 L493.4,137.1 L493.6,137.0 L493.8,136.6 L494.0,135.0 L494.2,135.4 L494.4,134.8 L494.6,136.0 L494.8,135.4 L495.0,136.1 L495.2,133.6 L495.4,136.1 L495.6,135.6 L495.8,134.7 L496.0,134.6 L496.2,137.3 L496.4,135.0 L496.6,135.0 L496.8,135.4 L497.0,134.9 L497.2,134.9 L497.4,134.8 L497.6,134.7 L497.8,134.8 L498.0,133.0 L498.2,133.0 L498.4,133.8 L498.6,132.5 L498.8,134.0 L499.0,132.4 L499.2,133.6 L499.4,133.4 L499.6,131.3 L499.8,133.3 L500.0,133.5 L500.2,131.5 L500.4,132.1 L500.6,133.2 L500.8,132.0 L501.0,133.3 L501.2,133.0 L501.4,131.0 L501.6,132.7 L501.8,132.9 L502.0,131.9 L502.2,132.0 L502.4,132.9 L502.6,130.7 L502.8,128.2 L503.0,132.5 L503.2,130.8 L503.4,131.2 L503.6,128.7 L503.8,130.7 L504.0,131.0 L504.2,130.5 L504.4,130.0 L504.6,132.6 L504.8,131.6 L505.0,131.3 L505.2,129.4 L505.4,130.0 L505.6,129.6 L505.8,131.0 L506.0,129.1 L506.2,130.2 L506.4,131.9 L506.6,130.1 L506.8,131.2 L507.0,129.5 L507.2,130.8 L507.4,129.6 L507.6,129.1 L507.8,129.9 L508.0,129.2 L508.2,129.1 L508.4,129.6 L508.6,129.6 L508.8,128.7 L509.0,130.8 L509.2,130.1 L509.4,128.6 L509.6,128.4 L509.8,129.4 L510.0,126.6 L510.2,128.7 L510.4,129.5 L510.6,129.5 L510.8,129.5 L511.0,129.3 L511.2,127.9 L511.4,126.7 L511.6,128.9 L511.8,128.1 L512.0,129.0 L512.2,129.2 L512.4,128.0 L512.6,128.2 L512.8,130.1 L513.0,129.0 L513.2,127.3 L513.4,128.7 L513.6,129.7 L513.8,127.5 L514.0,128.4 L514.2,127.5 L514.4,126.1 L514.6,128.0 L514.8,127.8 L515.0,127.3 L515.2,126.4 L515.4,127.9 L515.6,127.3 L515.8,128.0 L516.0,127.2 L516.2,127.3 L516.4,127.2 L516.6,127.5 L516.8,126.9 L517.0,127.7 L517.2,127.2 L517.4,127.3 L517.6,127.7 L517.8,128.0 L518.0,127.1 L518.2,126.5 L518.4,126.9 L518.6,126.3 L518.8,125.2 L519.0,128.0 L519.2,126.0 L519.4,126.4 L519.6,126.2 L519.8,125.7 L520.0,125.9 L520.2,126.7 L520.4,126.4 L520.6,125.8 L520.8,125.8 L521.0,127.3 L521.2,125.3 L521.4,125.5 L521.6,126.5 L521.8,127.1 L522.0,126.4 L522.2,126.2 L522.4,125.4 L522.6,125.7 L522.8,126.3 L523.0,126.2 L523.2,126.4 L523.4,124.4 L523.6,126.1 L523.8,125.5 L524.0,124.6 L524.2,124.3 L524.4,124.7 L524.6,124.2 L524.8,124.4 L525.0,124.3 L525.2,124.5 L525.4,123.3 L525.6,124.8 L525.8,124.9 L526.0,125.0 L526.2,124.5 L526.4,124.8 L526.6,123.3 L526.8,123.0 L527.0,125.2 L527.2,124.7 L527.4,122.8 L527.6,124.6 L527.8,123.0 L528.0,124.9 L528.2,124.7 L528.4,123.7 L528.6,123.3 L528.8,123.6 L529.0,122.1 L529.2,124.3 L529.4,123.2 L529.6,123.3 L529.8,121.9 L530.0,124.5 L530.2,123.7 L530.4,123.6 L530.6,123.0 L530.8,122.7 L531.0,121.7 L531.2,124.2 L531.4,122.8 L531.6,123.7 L531.8,123.2 L532.0,122.7 L532.2,123.3 L532.4,122.9 L532.6,123.4 L532.8,123.4 L533.0,122.4 L533.2,123.3 L533.4,123.4 L533.6,121.3 L533.8,122.1 L534.0,121.8 L534.2,121.9 L534.4,122.9 L534.6,122.8 L534.8,122.9 L535.0,122.5 L535.2,121.9 L535.4,122.3 L535.6,121.8 L535.8,122.9 L536.0,123.4 L536.2,121.9 L536.4,123.0 L536.6,121.8 L536.8,121.4 L537.0,122.3 L537.2,122.8 L537.4,121.2 L537.6,121.4 L537.8,121.2 L538.0,123.0 L538.2,121.8 L538.4,122.0 L538.6,122.5 L538.8,122.1 L539.0,122.6 L539.2,121.1 L539.4,121.8 L539.6,120.6 L539.8,122.0 L540.0,121.2 L540.2,121.3 L540.4,121.6 L540.6,119.9 L540.8,120.0 L541.0,120.9 L541.2,120.6 L541.4,120.6 L541.6,118.8 L541.8,121.4 L542.0,120.2 L542.2,121.0 L542.4,121.4 L542.6,119.2 L542.8,120.2 L543.0,121.5 L543.2,119.9 L543.4,121.0 L543.6,120.6 L543.8,119.9 L544.0,119.4 L544.2,119.7 L544.4,119.6 L544.6,120.7 L544.8,121.3 L545.0,118.2 L545.2,119.9 L545.4,119.4 L545.6,119.3 L545.8,120.6 L546.0,119.1 L546.2,118.9 L546.4,119.9 L546.6,119.5 L546.8,120.3 L547.0,119.9 L547.2,118.3 L547.4,119.6 L547.6,119.5 L547.8,119.4 L548.0,120.2 L548.2,119.9 L548.4,118.3 L548.6,118.7 L548.8,118.9 L549.0,119.7 L549.2,118.4 L549.4,118.4 L549.6,117.0 L549.8,119.1 L550.0,118.4 L550.2,118.0 L550.4,119.5 L550.6,119.2 L550.8,119.2 L551.0,117.9 L551.2,118.1 L551.4,117.8 L551.6,119.0 L551.8,118.0 L552.0,117.6 L552.2,117.0 L552.4,118.5 L552.6,117.0 L552.8,118.3 L553.0,118.7 L553.2,116.9 L553.4,116.1 L553.6,117.3 L553.8,115.4 L554.0,117.0 L554.2,117.0 L554.4,118.6 L554.6,118.3 L554.8,117.4 L555.0,117.8 L555.2,117.1 L555.4,117.0 L555.6,117.3 L555.8,117.7 L556.0,116.4 L556.2,117.0 L556.4,116.1 L556.6,113.5 L556.8,116.3 L557.0,116.8 L557.2,116.5 L557.4,116.1 L557.6,115.9 L557.8,115.5 L558.0,116.6 L558.2,115.4 L558.4,116.7 L558.6,116.3 L558.8,115.7 L559.0,115.7 L559.2,114.7 L559.4,115.9 L559.6,116.7 L559.8,115.6 L560.0,113.2 L560.2,116.0 L560.4,115.1 L560.6,114.7 L560.8,115.1 L561.0,116.2 L561.2,115.3 L561.4,115.0 L561.6,115.9 L561.8,113.9 L562.0,114.4 L562.2,115.2 L562.4,115.8 L562.6,114.2 L562.8,114.5 L563.0,113.5 L563.2,113.6 L563.4,114.1 L563.6,113.2 L563.8,116.4 L564.0,114.2 L564.2,114.7 L564.4,115.6 L564.6,114.0 L564.8,113.3 L565.0,113.5 L565.2,113.5 L565.4,114.3 L565.6,114.3 L565.8,113.3 L566.0,113.9 L566.2,113.6 L566.4,112.5 L566.6,114.4 L566.8,114.0 L567.0,113.5 L567.2,113.1 L567.4,113.2 L567.6,112.8 L567.8,112.3 L568.0,111.5 L568.2,111.8 L568.4,112.5 L568.6,110.6 L568.8,113.1 L569.0,111.0 L569.2,112.8 L569.4,113.3 L569.6,112.8 L569.8,112.0 L570.0,111.7 L570.2,111.4 L570.4,112.8 L570.6,112.3 L570.8,111.4 L571.0,112.6 L571.2,111.6 L571.4,111.7 L571.6,111.9 L571.8,111.6 L572.0,111.4 L572.2,111.8 L572.4,111.4 L572.6,111.0 L572.8,110.2 L573.0,110.9 L573.2,110.6 L573.4,110.6 L573.6,110.7 L573.8,109.6 L574.0,111.2 L574.2,108.6 L574.4,108.9 L574.6,110.0 L574.8,109.5 L575.0,110.7 L575.2,111.1 L575.4,110.4 L575.6,110.8 L575.8,110.4 L576.0,109.8 L576.2,110.0 L576.4,110.4 L576.6,110.4 L576.8,110.1 L577.0,110.1 L577.2,110.8 L577.4,109.6 L577.6,109.9 L577.8,108.7 L578.0,110.5 L578.2,110.2 L578.4,108.0 L578.6,110.2 L578.8,107.7 L579.0,110.1 L579.2,109.1 L579.4,109.5 L579.6,108.9 L579.8,109.3 L580.0,107.9 L580.2,111.0 L580.4,109.3 L580.6,109.7 L580.8,108.3 L581.0,106.7 L581.2,106.4 L581.4,108.1 L581.6,107.2 L581.8,107.3 L582.0,108.1 L582.2,109.2 L582.4,107.8 L582.6,107.0 L582.8,107.2 L583.0,107.4 L583.2,108.9 L583.4,107.1 L583.6,107.3 L583.8,107.1 L584.0,105.8 L584.2,108.1 L584.4,106.7 L584.6,106.4 L584.8,106.3 L585.0,106.0 L585.2,105.4 L585.4,106.2 L585.6,105.3 L585.8,107.4 L586.0,106.3 L586.2,106.3 L586.4,106.4 L586.6,106.5 L586.8,104.8 L587.0,106.0 L587.2,105.6 L587.4,107.1 L587.6,104.9 L587.8,105.4 L588.0,105.7 L588.2,105.0 L588.4,104.5 L588.6,104.6 L588.8,103.4 L589.0,104.0 L589.2,105.1 L589.4,103.2 L589.6,102.2 L589.8,105.0 L590.0,103.5 L590.2,104.3 L590.4,102.2 L590.6,102.4 L590.8,103.0 L591.0,103.8 L591.2,104.0 L591.4,102.0 L591.6,102.8 L591.8,102.3 L592.0,100.9 L592.2,104.7 L592.4,103.3 L592.6,101.8 L592.8,102.6 L593.0,103.5 L593.2,102.1 L593.4,101.4 L593.6,101.8 L593.8,101.4 L594.0,102.1 L594.2,102.9 L594.4,100.5 L594.6,101.8 L594.8,101.6 L595.0,101.9 L595.2,100.4 L595.4,101.1 L595.6,101.8 L595.8,102.4 L596.0,101.7 L596.2,99.4 L596.4,99.6 L596.6,101.7 L596.8,100.9 L597.0,101.0 L597.2,100.7 L597.4,99.3 L597.6,98.0 L597.8,101.7 L598.0,98.5 L598.2,100.0 L598.4,99.4 L598.6,98.9 L598.8,99.0 L599.0,100.6 L599.2,99.5 L599.4,100.1 L599.6,98.9 L599.8,98.2 L600.0,98.9 L600.2,98.3 L600.4,98.7 L600.6,99.2 L600.8,98.1 L601.0,98.3 L601.2,97.8 L601.4,97.2 L601.6,98.0 L601.8,96.9 L602.0,98.0 L602.2,97.1 L602.4,96.4 L602.6,98.0 L602.8,97.0 L603.0,96.1 L603.2,99.3 L603.4,95.8 L603.6,95.6 L603.8,96.6 L604.0,94.6 L604.2,96.4 L604.4,94.5 L604.6,95.8 L604.8,95.6 L605.0,95.8 L605.2,95.7 L605.4,94.0 L605.6,96.6 L605.8,95.8 L606.0,95.0 L606.2,93.8 L606.4,94.5 L606.6,93.7 L606.8,93.6 L607.0,94.9 L607.2,94.6 L607.4,93.8 L607.6,96.4 L607.8,94.0 L608.0,93.5 L608.2,94.2 L608.4,92.7 L608.6,93.3 L608.8,94.2 L609.0,92.0 L609.2,93.1 L609.4,93.1 L609.6,91.8 L609.8,92.8 L610.0,92.6 L610.2,91.8 L610.4,92.9 L610.6,92.3 L610.8,91.2 L611.0,91.5 L611.2,91.3 L611.4,92.8 L611.6,89.5 L611.8,91.8 L612.0,91.9 L612.2,91.2 L612.4,91.0 L612.6,90.4 L612.8,91.5 L613.0,89.8 L613.2,89.6 L613.4,88.9 L613.6,90.2 L613.8,89.4 L614.0,90.0 L614.2,89.7 L614.4,88.2 L614.6,89.9 L614.8,88.9 L615.0,88.4 L615.2,90.4 L615.4,89.1 L615.6,87.8 L615.8,88.0 L616.0,88.9 L616.2,87.6 L616.4,88.7 L616.6,82.2 L616.8,86.7 L617.0,88.4 L617.2,88.2 L617.4,87.8 L617.6,86.9 L617.8,86.5 L618.0,89.5 L618.2,85.2 L618.4,86.3 L618.6,87.2 L618.8,86.6 L619.0,85.9 L619.2,84.9 L619.4,85.1 L619.6,85.3 L619.8,87.4 L620.0,85.5 L620.2,85.0 L620.4,83.7 L620.6,86.7 L620.8,84.1 L621.0,85.4 L621.2,85.0 L621.4,85.6 L621.6,83.5 L621.8,83.5 L622.0,81.4 L622.2,82.6 L622.4,84.2 L622.6,83.6 L622.8,82.0 L623.0,83.1 L623.2,83.2 L623.4,83.9 L623.6,82.4 L623.8,80.5 L624.0,81.4 L624.2,80.5 L624.4,81.4 L624.6,81.1 L624.8,79.1 L625.0,79.7 L625.2,79.7 L625.4,79.8 L625.6,76.2 L625.8,80.7 L626.0,78.6 L626.2,80.1 L626.4,79.8 L626.6,80.9 L626.8,79.9 L627.0,78.6 L627.2,78.4 L627.4,77.4 L627.6,75.8 L627.8,75.9 L628.0,76.6 L628.2,77.6 L628.4,74.6 L628.6,74.3 L628.8,75.4 L629.0,72.1 L629.2,75.4 L629.4,73.7 L629.6,73.9 L629.8,75.3 L630.0,73.0 L630.2,73.5 L630.4,71.3 L630.6,75.1 L630.8,71.0 L631.0,72.2 L631.2,71.8 L631.4,69.9 L631.6,72.3 L631.8,69.4 L632.0,70.3 L632.2,71.0 L632.4,70.2 L632.6,69.3 L632.8,71.2 L633.0,68.4 L633.2,68.2 L633.4,68.3 L633.6,69.3 L633.8,67.7 L634.0,68.7 L634.2,67.7 L634.4,67.6 L634.6,69.5 L634.8,66.3 L635.0,67.1 L635.2,65.9 L635.4,64.7 L635.6,66.5 L635.8,64.1 L636.0,65.1 L636.2,65.6 L636.4,64.2 L636.6,66.1 L636.8,67.6 L637.0,64.3 L637.2,64.5 L637.4,62.6 L637.6,63.1 L637.8,63.9 L638.0,62.2 L638.2,62.0 L638.4,62.1 L638.6,61.0 L638.8,63.2 L639.0,62.9 L639.2,61.8 L639.4,62.0 L639.6,61.3 L639.8,63.1 L640.0,59.3 L640.2,61.0 L640.4,60.7 L640.6,59.6 L640.8,59.3 L641.0,59.1 L641.2,56.7 L641.4,59.2 L641.6,59.6 L641.8,59.1 L642.0,55.9 L642.2,59.6 L642.4,58.9 L642.6,58.0 L642.8,55.8 L643.0,58.1 L643.2,54.6 L643.4,56.0 L643.6,53.8 L643.8,58.4 L644.0,54.9 L644.2,53.8 L644.4,56.7 L644.6,53.6 L644.8,54.3 L645.0,55.0 L645.2,55.2 L645.4,55.3 L645.6,52.1 L645.8,54.8 L646.0,53.4 L646.2,52.0 L646.4,54.7 L646.6,52.3 L646.8,49.9 L647.0,54.4 L647.2,51.8 L647.4,52.5 L647.6,51.8 L647.8,50.1 L648.0,51.6 L648.2,50.3 L648.4,50.4 L648.6,50.7 L648.8,53.4 L649.0,49.2 L649.2,50.5 L649.4,49.1 L649.6,50.0 L649.8,49.6 L650.0,49.8 L650.2,48.3 L650.4,45.9 L650.6,48.9 L650.8,47.5 L651.0,48.3 L651.2,45.5 L651.4,46.4 L651.6,45.0 L651.8,49.0 L652.0,45.8 L652.2,45.5 L652.4,46.9 L652.6,44.2 L652.8,45.5 L653.0,46.4 L653.2,45.2 L653.4,42.8 L653.6,45.6 L653.8,45.2 L654.0,42.8 L654.2,42.4 L654.4,45.9 L654.6,42.7 L654.8,43.8 L655.0,41.9 L655.2,41.2 L655.4,42.3 L655.6,43.3 L655.8,43.1 L656.0,39.2 L656.2,41.7 L656.4,40.0 L656.6,42.3 L656.8,41.7 L657.0,38.2 L657.2,40.6 L657.4,38.7 L657.6,40.0 L657.8,37.3 L658.0,41.2 L658.2,41.1 L658.4,39.1 L658.6,39.5 L658.8,38.6 L659.0,39.5 L659.2,36.6 L659.4,34.6 L659.6,37.7 L659.8,37.1 L660.0,39.5 L660.2,37.2 L660.4,38.4 L660.6,37.3 L660.8,39.2 L661.0,37.0 L661.2,35.1 L661.4,34.8 L661.6,36.1 L661.8,37.9 L662.0,36.7 L662.2,33.2 L662.4,36.4 L662.6,34.8 L662.8,32.6 L663.0,32.2" fill="none" stroke="#f20000" stroke-width="1.6" stroke-linejoin="round" opacity="1"/>
<path d="M477.0,136.4 L477.2,139.2 L477.4,143.6 L477.6,139.3 L477.8,140.3 L478.0,139.3 L478.2,136.0 L478.4,140.3 L478.6,138.5 L478.8,140.5 L479.0,140.5 L479.2,142.7 L479.4,140.3 L479.6,142.5 L479.8,135.9 L480.0,137.8 L480.2,143.9 L480.4,137.5 L480.6,142.3 L480.8,139.6 L481.0,138.4 L481.2,135.9 L481.4,140.6 L481.6,141.6 L481.8,140.2 L482.0,139.3 L482.2,139.7 L482.4,136.5 L482.6,141.0 L482.8,141.9 L483.0,142.1 L483.2,136.7 L483.4,139.4 L483.6,139.4 L483.8,139.6 L484.0,140.2 L484.2,137.3 L484.4,133.5 L484.6,138.3 L484.8,136.4 L485.0,138.7 L485.2,138.7 L485.4,138.2 L485.6,138.6 L485.8,137.8 L486.0,138.5 L486.2,140.1 L486.4,139.1 L486.6,135.2 L486.8,138.6 L487.0,140.0 L487.2,137.1 L487.4,139.2 L487.6,139.2 L487.8,136.0 L488.0,135.6 L488.2,138.0 L488.4,137.4 L488.6,136.5 L488.8,135.1 L489.0,137.1 L489.2,135.7 L489.4,137.3 L489.6,137.5 L489.8,138.2 L490.0,140.0 L490.2,135.6 L490.4,135.3 L490.6,141.5 L490.8,137.2 L491.0,138.0 L491.2,142.5 L491.4,140.4 L491.6,136.4 L491.8,137.9 L492.0,137.9 L492.2,140.8 L492.4,137.0 L492.6,138.8 L492.8,139.6 L493.0,145.6 L493.2,134.5 L493.4,133.9 L493.6,136.1 L493.8,134.3 L494.0,135.3 L494.2,135.7 L494.4,136.2 L494.6,137.2 L494.8,136.8 L495.0,136.2 L495.2,137.4 L495.4,136.2 L495.6,137.5 L495.8,136.5 L496.0,137.7 L496.2,137.5 L496.4,136.2 L496.6,137.0 L496.8,135.8 L497.0,136.9 L497.2,136.6 L497.4,135.9 L497.6,134.3 L497.8,134.5 L498.0,138.2 L498.2,136.3 L498.4,133.1 L498.6,136.5 L498.8,136.1 L499.0,132.9 L499.2,138.2 L499.4,133.6 L499.6,137.5 L499.8,135.4 L500.0,137.8 L500.2,139.2 L500.4,136.0 L500.6,139.5 L500.8,131.0 L501.0,136.2 L501.2,138.2 L501.4,139.4 L501.6,133.3 L501.8,136.7 L502.0,132.1 L502.2,138.9 L502.4,138.2 L502.6,134.4 L502.8,137.7 L503.0,133.2 L503.2,135.3 L503.4,132.3 L503.6,138.1 L503.8,136.9 L504.0,136.4 L504.2,137.2 L504.4,135.8 L504.6,136.6 L504.8,137.4 L505.0,135.5 L505.2,132.4 L505.4,138.3 L505.6,136.0 L505.8,138.1 L506.0,134.8 L506.2,133.1 L506.4,133.7 L506.6,135.6 L506.8,135.4 L507.0,136.9 L507.2,136.6 L507.4,134.7 L507.6,138.3 L507.8,134.5 L508.0,136.9 L508.2,135.0 L508.4,134.2 L508.6,135.2 L508.8,134.6 L509.0,136.9 L509.2,132.4 L509.4,136.1 L509.6,134.9 L509.8,133.5 L510.0,132.8 L510.2,135.3 L510.4,135.4 L510.6,133.4 L510.8,132.8 L511.0,138.1 L511.2,134.9 L511.4,132.7 L511.6,136.7 L511.8,134.5 L512.0,136.2 L512.2,134.5 L512.4,137.5 L512.6,134.5 L512.8,133.1 L513.0,133.1 L513.2,135.4 L513.4,134.6 L513.6,133.8 L513.8,134.2 L514.0,134.6 L514.2,131.5 L514.4,134.8 L514.6,133.0 L514.8,134.2 L515.0,134.5 L515.2,134.4 L515.4,135.9 L515.6,133.1 L515.8,133.8 L516.0,131.6 L516.2,134.3 L516.4,133.1 L516.6,133.8 L516.8,134.7 L517.0,134.8 L517.2,134.3 L517.4,133.5 L517.6,132.9 L517.8,134.2 L518.0,135.8 L518.2,135.4 L518.4,133.0 L518.6,130.8 L518.8,131.7 L519.0,133.2 L519.2,131.2 L519.4,131.4 L519.6,131.8 L519.8,135.7 L520.0,132.3 L520.2,134.0 L520.4,132.5 L520.6,133.6 L520.8,132.6 L521.0,132.2 L521.2,133.3 L521.4,129.6 L521.6,131.0 L521.8,136.7 L522.0,133.1 L522.2,128.9 L522.4,132.5 L522.6,131.9 L522.8,131.9 L523.0,134.4 L523.2,132.6 L523.4,131.9 L523.6,134.0 L523.8,134.0 L524.0,132.7 L524.2,134.6 L524.4,132.4 L524.6,130.1 L524.8,131.4 L525.0,135.2 L525.2,135.0 L525.4,130.2 L525.6,131.9 L525.8,132.3 L526.0,133.1 L526.2,129.4 L526.4,133.8 L526.6,133.2 L526.8,131.7 L527.0,135.2 L527.2,134.4 L527.4,131.6 L527.6,133.1 L527.8,130.2 L528.0,132.7 L528.2,130.7 L528.4,130.2 L528.6,130.6 L528.8,130.0 L529.0,132.6 L529.2,131.4 L529.4,130.7 L529.6,131.1 L529.8,131.6 L530.0,132.9 L530.2,133.6 L530.4,132.5 L530.6,128.5 L530.8,129.0 L531.0,130.3 L531.2,129.2 L531.4,133.7 L531.6,130.5 L531.8,132.1 L532.0,130.9 L532.2,131.9 L532.4,130.4 L532.6,129.7 L532.8,128.9 L533.0,131.2 L533.2,132.0 L533.4,129.6 L533.6,131.7 L533.8,132.5 L534.0,130.1 L534.2,129.9 L534.4,131.5 L534.6,130.3 L534.8,129.9 L535.0,130.9 L535.2,127.9 L535.4,129.5 L535.6,127.0 L535.8,130.1 L536.0,131.5 L536.2,132.1 L536.4,128.1 L536.6,132.0 L536.8,130.5 L537.0,130.4 L537.2,130.3 L537.4,131.2 L537.6,130.2 L537.8,130.4 L538.0,130.1 L538.2,130.8 L538.4,129.9 L538.6,129.4 L538.8,131.3 L539.0,130.5 L539.2,130.1 L539.4,128.4 L539.6,128.4 L539.8,129.7 L540.0,128.6 L540.2,131.3 L540.4,129.0 L540.6,129.3 L540.8,128.5 L541.0,130.3 L541.2,127.4 L541.4,130.3 L541.6,131.5 L541.8,129.6 L542.0,130.1 L542.2,130.0 L542.4,130.1 L542.6,128.8 L542.8,128.7 L543.0,124.7 L543.2,128.9 L543.4,129.5 L543.6,130.3 L543.8,127.2 L544.0,127.4 L544.2,128.6 L544.4,128.3 L544.6,129.4 L544.8,126.7 L545.0,129.3 L545.2,128.0 L545.4,130.6 L545.6,129.5 L545.8,128.2 L546.0,128.8 L546.2,128.0 L546.4,129.0 L546.6,127.6 L546.8,128.6 L547.0,128.8 L547.2,128.1 L547.4,127.7 L547.6,128.7 L547.8,128.0 L548.0,129.8 L548.2,127.6 L548.4,129.4 L548.6,128.0 L548.8,128.0 L549.0,128.3 L549.2,128.7 L549.4,129.3 L549.6,129.3 L549.8,130.1 L550.0,129.1 L550.2,129.2 L550.4,128.8 L550.6,129.1 L550.8,128.4 L551.0,128.4 L551.2,128.3 L551.4,128.4 L551.6,127.4 L551.8,127.0 L552.0,128.4 L552.2,128.5 L552.4,127.8 L552.6,129.9 L552.8,126.2 L553.0,127.0 L553.2,127.1 L553.4,127.6 L553.6,127.0 L553.8,129.4 L554.0,129.0 L554.2,127.5 L554.4,128.9 L554.6,128.2 L554.8,126.7 L555.0,127.0 L555.2,128.1 L555.4,129.8 L555.6,126.2 L555.8,125.3 L556.0,125.7 L556.2,128.6 L556.4,125.4 L556.6,126.4 L556.8,128.0 L557.0,127.5 L557.2,129.7 L557.4,128.6 L557.6,125.8 L557.8,128.3 L558.0,123.6 L558.2,127.4 L558.4,126.1 L558.6,127.3 L558.8,126.4 L559.0,127.4 L559.2,125.9 L559.4,127.3 L559.6,126.4 L559.8,126.0 L560.0,125.2 L560.2,125.5 L560.4,126.3 L560.6,127.2 L560.8,124.3 L561.0,126.6 L561.2,127.9 L561.4,126.8 L561.6,125.7 L561.8,126.5 L562.0,125.7 L562.2,127.4 L562.4,123.6 L562.6,127.5 L562.8,125.5 L563.0,125.4 L563.2,128.6 L563.4,124.4 L563.6,125.1 L563.8,124.1 L564.0,127.4 L564.2,125.4 L564.4,127.0 L564.6,130.5 L564.8,128.0 L565.0,124.3 L565.2,126.8 L565.4,123.8 L565.6,125.7 L565.8,126.3 L566.0,127.9 L566.2,128.7 L566.4,123.4 L566.6,125.2 L566.8,123.1 L567.0,124.9 L567.2,127.5 L567.4,124.0 L567.6,125.7 L567.8,127.2 L568.0,125.7 L568.2,126.9 L568.4,124.8 L568.6,123.8 L568.8,130.3 L569.0,123.0 L569.2,125.5 L569.4,122.7 L569.6,125.3 L569.8,123.9 L570.0,123.8 L570.2,125.3 L570.4,126.3 L570.6,124.1 L570.8,125.4 L571.0,124.8 L571.2,123.3 L571.4,124.5 L571.6,125.1 L571.8,125.6 L572.0,126.6 L572.2,124.6 L572.4,123.2 L572.6,125.4 L572.8,124.8 L573.0,125.4 L573.2,125.2 L573.4,125.8 L573.6,125.9 L573.8,123.8 L574.0,126.6 L574.2,125.5 L574.4,125.8 L574.6,125.2 L574.8,125.5 L575.0,124.1 L575.2,126.0 L575.4,121.7 L575.6,125.8 L575.8,123.8 L576.0,124.7 L576.2,124.8 L576.4,124.9 L576.6,123.6 L576.8,125.1 L577.0,124.0 L577.2,123.3 L577.4,124.3 L577.6,124.3 L577.8,123.3 L578.0,125.6 L578.2,123.3 L578.4,124.7 L578.6,123.9 L578.8,121.3 L579.0,125.4 L579.2,122.4 L579.4,122.6 L579.6,126.5 L579.8,124.3 L580.0,124.6 L580.2,125.0 L580.4,124.1 L580.6,122.3 L580.8,125.8 L581.0,125.4 L581.2,123.1 L581.4,122.6 L581.6,124.9 L581.8,123.0 L582.0,124.6 L582.2,122.8 L582.4,123.5 L582.6,125.9 L582.8,125.2 L583.0,125.6 L583.2,124.4 L583.4,124.4 L583.6,123.8 L583.8,125.9 L584.0,121.9 L584.2,125.7 L584.4,124.9 L584.6,123.3 L584.8,121.0 L585.0,124.7 L585.2,121.9 L585.4,123.7 L585.6,123.5 L585.8,122.8 L586.0,121.5 L586.2,123.8 L586.4,124.6 L586.6,121.0 L586.8,125.6 L587.0,123.0 L587.2,123.9 L587.4,122.8 L587.6,122.2 L587.8,121.8 L588.0,124.5 L588.2,122.7 L588.4,122.6 L588.6,121.6 L588.8,122.2 L589.0,122.1 L589.2,123.8 L589.4,124.0 L589.6,121.9 L589.8,119.5 L590.0,123.9 L590.2,123.3 L590.4,121.2 L590.6,121.0 L590.8,123.4 L591.0,119.9 L591.2,124.1 L591.4,121.6 L591.6,121.7 L591.8,124.1 L592.0,121.1 L592.2,124.1 L592.4,122.2 L592.6,122.1 L592.8,123.9 L593.0,121.2 L593.2,122.2 L593.4,124.0 L593.6,121.3 L593.8,119.7 L594.0,120.9 L594.2,122.5 L594.4,121.8 L594.6,121.9 L594.8,122.5 L595.0,121.8 L595.2,121.0 L595.4,123.0 L595.6,122.6 L595.8,121.3 L596.0,121.0 L596.2,125.7 L596.4,120.2 L596.6,122.4 L596.8,119.7 L597.0,119.2 L597.2,123.3 L597.4,121.5 L597.6,120.8 L597.8,122.9 L598.0,121.2 L598.2,120.5 L598.4,120.3 L598.6,122.5 L598.8,121.4 L599.0,121.3 L599.2,120.8 L599.4,120.5 L599.6,118.9 L599.8,121.0 L600.0,121.3 L600.2,121.1 L600.4,121.8 L600.6,121.6 L600.8,119.8 L601.0,121.0 L601.2,119.7 L601.4,122.1 L601.6,119.6 L601.8,120.7 L602.0,118.8 L602.2,120.4 L602.4,118.0 L602.6,117.4 L602.8,120.0 L603.0,120.4 L603.2,120.9 L603.4,119.6 L603.6,119.7 L603.8,119.0 L604.0,120.1 L604.2,118.3 L604.4,118.5 L604.6,122.0 L604.8,117.8 L605.0,119.7 L605.2,118.3 L605.4,119.2 L605.6,118.5 L605.8,117.2 L606.0,117.0 L606.2,116.2 L606.4,120.2 L606.6,119.1 L606.8,116.5 L607.0,116.8 L607.2,120.7 L607.4,117.7 L607.6,117.6 L607.8,116.8 L608.0,117.3 L608.2,116.1 L608.4,114.6 L608.6,117.1 L608.8,116.9 L609.0,117.9 L609.2,116.3 L609.4,114.4 L609.6,117.9 L609.8,117.3 L610.0,116.5 L610.2,118.6 L610.4,117.9 L610.6,115.0 L610.8,115.9 L611.0,115.8 L611.2,115.4 L611.4,117.3 L611.6,116.9 L611.8,114.3 L612.0,116.8 L612.2,117.0 L612.4,115.1 L612.6,114.8 L612.8,113.4 L613.0,114.8 L613.2,115.4 L613.4,112.7 L613.6,113.3 L613.8,112.9 L614.0,113.5 L614.2,114.6 L614.4,114.1 L614.6,114.0 L614.8,112.9 L615.0,114.9 L615.2,114.4 L615.4,113.6 L615.6,112.4 L615.8,111.8 L616.0,113.6 L616.2,113.2 L616.4,113.4 L616.6,114.4 L616.8,113.7 L617.0,109.5 L617.2,112.2 L617.4,112.0 L617.6,113.3 L617.8,111.4 L618.0,112.4 L618.2,113.0 L618.4,110.2 L618.6,113.2 L618.8,112.1 L619.0,111.4 L619.2,109.2 L619.4,110.5 L619.6,109.9 L619.8,111.1 L620.0,110.8 L620.2,110.9 L620.4,111.2 L620.6,110.0 L620.8,111.3 L621.0,108.6 L621.2,111.4 L621.4,111.6 L621.6,110.6 L621.8,111.0 L622.0,110.5 L622.2,108.7 L622.4,107.9 L622.6,111.5 L622.8,108.0 L623.0,108.1 L623.2,108.8 L623.4,105.2 L623.6,106.6 L623.8,108.5 L624.0,107.4 L624.2,106.0 L624.4,106.6 L624.6,106.1 L624.8,109.1 L625.0,107.2 L625.2,107.2 L625.4,108.3 L625.6,107.4 L625.8,108.5 L626.0,107.7 L626.2,108.5 L626.4,107.8 L626.6,108.8 L626.8,107.2 L627.0,108.2 L627.2,105.2 L627.4,108.1 L627.6,105.5 L627.8,104.5 L628.0,105.7 L628.2,104.4 L628.4,104.4 L628.6,103.1 L628.8,104.3 L629.0,102.9 L629.2,103.7 L629.4,104.1 L629.6,101.9 L629.8,102.0 L630.0,103.2 L630.2,102.5 L630.4,100.4 L630.6,103.2 L630.8,104.3 L631.0,101.0 L631.2,104.3 L631.4,102.5 L631.6,104.7 L631.8,100.4 L632.0,100.1 L632.2,101.4 L632.4,101.8 L632.6,99.5 L632.8,97.8 L633.0,100.7 L633.2,101.6 L633.4,99.4 L633.6,100.8 L633.8,99.8 L634.0,97.2 L634.2,98.8 L634.4,100.7 L634.6,100.3 L634.8,100.7 L635.0,100.5 L635.2,98.5 L635.4,98.5 L635.6,99.7 L635.8,101.6 L636.0,101.3 L636.2,96.6 L636.4,98.0 L636.6,98.4 L636.8,98.6 L637.0,97.1 L637.2,100.2 L637.4,100.4 L637.6,98.2 L637.8,98.7 L638.0,100.6 L638.2,95.7 L638.4,96.3 L638.6,96.1 L638.8,99.1 L639.0,97.7 L639.2,97.5 L639.4,94.4 L639.6,99.1 L639.8,96.5 L640.0,99.4 L640.2,95.7 L640.4,96.2 L640.6,95.4 L640.8,98.4 L641.0,97.0 L641.2,95.9 L641.4,95.8 L641.6,92.0 L641.8,95.2 L642.0,94.1 L642.2,89.9 L642.4,96.4 L642.6,94.4 L642.8,94.4 L643.0,92.9 L643.2,95.3 L643.4,93.3 L643.6,91.8 L643.8,91.6 L644.0,93.3 L644.2,94.2 L644.4,96.5 L644.6,91.4 L644.8,91.5 L645.0,94.3 L645.2,92.2 L645.4,91.0 L645.6,92.1 L645.8,91.3 L646.0,93.6 L646.2,91.1 L646.4,92.4 L646.6,90.0 L646.8,92.1 L647.0,88.3 L647.2,92.1 L647.4,92.3 L647.6,91.2 L647.8,90.0 L648.0,88.9 L648.2,91.7 L648.4,92.6 L648.6,89.7 L648.8,89.4 L649.0,88.5 L649.2,89.8 L649.4,87.4 L649.6,89.9 L649.8,88.5 L650.0,87.4 L650.2,88.1 L650.4,88.5 L650.6,86.3 L650.8,87.6 L651.0,91.9 L651.2,87.9 L651.4,88.0 L651.6,87.9 L651.8,87.9 L652.0,86.6 L652.2,90.1 L652.4,85.8 L652.6,84.4 L652.8,88.6 L653.0,88.0 L653.2,86.1 L653.4,88.5 L653.6,87.0 L653.8,86.0 L654.0,85.8 L654.2,85.6 L654.4,90.1 L654.6,87.9 L654.8,85.7 L655.0,88.6 L655.2,84.1 L655.4,88.8 L655.6,87.5 L655.8,85.7 L656.0,84.1 L656.2,85.2 L656.4,82.6 L656.6,83.9 L656.8,87.2 L657.0,83.5 L657.2,82.3 L657.4,85.5 L657.6,83.2 L657.8,86.5 L658.0,83.9 L658.2,82.4 L658.4,84.0 L658.6,81.9 L658.8,81.2 L659.0,84.4 L659.2,81.4 L659.4,83.2 L659.6,84.9 L659.8,83.2 L660.0,82.7 L660.2,79.9 L660.4,83.2 L660.6,84.7 L660.8,81.2 L661.0,78.6 L661.2,80.1 L661.4,81.0 L661.6,79.0 L661.8,78.9 L662.0,77.2 L662.2,81.3 L662.4,79.6 L662.6,78.7 L662.8,79.6 L663.0,78.7" fill="none" stroke="#800080" stroke-width="2.2" stroke-linejoin="round" opacity="1"/>
<line x1="663.00" y1="67.00" x2="663.00" y2="82.00" stroke="#800080" stroke-width="1.3" />
<line x1="662.80" y1="28.00" x2="662.80" y2="40.00" stroke="#f20000" stroke-width="1.1" />
<line x1="578.00" y1="192.60" x2="578.00" y2="320.60" stroke="#000" stroke-width="1.4" />
<line x1="476.30" y1="278.20" x2="663.30" y2="278.20" stroke="#000" stroke-width="1.4" />
<line x1="572.00" y1="320.80" x2="578.00" y2="320.80" stroke="#000" stroke-width="1.3" />
<line x1="574.80" y1="299.50" x2="578.00" y2="299.50" stroke="#000" stroke-width="1.3" />
<line x1="574.80" y1="256.90" x2="578.00" y2="256.90" stroke="#000" stroke-width="1.3" />
<line x1="572.00" y1="235.60" x2="578.00" y2="235.60" stroke="#000" stroke-width="1.3" />
<line x1="574.80" y1="214.30" x2="578.00" y2="214.30" stroke="#000" stroke-width="1.3" />
<line x1="572.00" y1="193.00" x2="578.00" y2="193.00" stroke="#000" stroke-width="1.3" />
<line x1="493.10" y1="278.20" x2="493.10" y2="284.20" stroke="#000" stroke-width="1.3" />
<line x1="514.33" y1="278.20" x2="514.33" y2="281.40" stroke="#000" stroke-width="1.3" />
<line x1="535.55" y1="278.20" x2="535.55" y2="284.20" stroke="#000" stroke-width="1.3" />
<line x1="556.77" y1="278.20" x2="556.77" y2="281.40" stroke="#000" stroke-width="1.3" />
<line x1="599.23" y1="278.20" x2="599.23" y2="281.40" stroke="#000" stroke-width="1.3" />
<line x1="620.45" y1="278.20" x2="620.45" y2="284.20" stroke="#000" stroke-width="1.3" />
<line x1="641.67" y1="278.20" x2="641.67" y2="281.40" stroke="#000" stroke-width="1.3" />
<line x1="662.90" y1="278.20" x2="662.90" y2="284.20" stroke="#000" stroke-width="1.3" />
<text x="567.00" y="198.20" font-size="14.7" text-anchor="end" font-weight="normal" >100</text>
<text x="567.00" y="240.80" font-size="14.7" text-anchor="end" font-weight="normal" >50</text>
<text x="567.00" y="326.00" font-size="14.7" text-anchor="end" font-weight="normal" >−50</text>
<text x="507.00" y="197.60" font-size="14.7" text-anchor="start" font-weight="normal" >(pA)</text>
<text x="644.20" y="321.40" font-size="14.7" text-anchor="start" font-weight="normal" >(mV)</text>
<text x="495.40" y="301.20" font-size="14.7" text-anchor="middle" font-weight="normal" >−100</text>
<text x="534.00" y="301.20" font-size="14.7" text-anchor="middle" font-weight="normal" >−50</text>
<text x="620.80" y="301.20" font-size="14.7" text-anchor="middle" font-weight="normal" >50</text>
<text x="664.00" y="301.20" font-size="14.7" text-anchor="middle" font-weight="normal" >100</text>
<path d="M477.0,299.8 L477.2,299.9 L477.4,301.4 L477.6,287.8 L477.8,298.6 L478.0,298.9 L478.2,299.3 L478.4,296.9 L478.6,298.1 L478.8,298.2 L479.0,296.7 L479.2,296.4 L479.4,300.4 L479.6,297.8 L479.8,296.9 L480.0,302.0 L480.2,300.9 L480.4,298.1 L480.6,299.1 L480.8,296.1 L481.0,298.1 L481.2,294.9 L481.4,300.9 L481.6,297.8 L481.8,298.1 L482.0,296.3 L482.2,293.7 L482.4,301.6 L482.6,298.5 L482.8,295.9 L483.0,298.8 L483.2,294.8 L483.4,297.2 L483.6,298.6 L483.8,294.9 L484.0,299.1 L484.2,295.6 L484.4,294.1 L484.6,297.8 L484.8,297.7 L485.0,296.2 L485.2,297.3 L485.4,296.8 L485.6,298.3 L485.8,294.5 L486.0,295.8 L486.2,293.0 L486.4,292.2 L486.6,293.7 L486.8,295.1 L487.0,299.3 L487.2,295.5 L487.4,294.7 L487.6,292.2 L487.8,295.1 L488.0,307.8 L488.2,298.5 L488.4,295.2 L488.6,297.2 L488.8,295.0 L489.0,296.6 L489.2,298.2 L489.4,295.4 L489.6,297.9 L489.8,295.4 L490.0,292.7 L490.2,298.1 L490.4,298.1 L490.6,296.3 L490.8,291.9 L491.0,297.0 L491.2,293.1 L491.4,295.1 L491.6,295.6 L491.8,302.1 L492.0,290.5 L492.2,297.0 L492.4,295.0 L492.6,294.3 L492.8,292.4 L493.0,298.5 L493.2,299.1 L493.4,296.8 L493.6,295.1 L493.8,295.8 L494.0,293.6 L494.2,294.6 L494.4,294.7 L494.6,296.3 L494.8,294.5 L495.0,293.5 L495.2,290.8 L495.4,291.9 L495.6,293.4 L495.8,291.5 L496.0,292.8 L496.2,294.3 L496.4,292.6 L496.6,293.2 L496.8,297.5 L497.0,296.1 L497.2,296.0 L497.4,295.7 L497.6,292.3 L497.8,295.4 L498.0,298.4 L498.2,293.2 L498.4,293.5 L498.6,297.6 L498.8,296.7 L499.0,293.5 L499.2,297.3 L499.4,295.5 L499.6,292.3 L499.8,292.3 L500.0,295.9 L500.2,295.0 L500.4,291.2 L500.6,290.4 L500.8,295.1 L501.0,292.5 L501.2,291.8 L501.4,289.5 L501.6,290.5 L501.8,291.7 L502.0,296.4 L502.2,291.9 L502.4,293.5 L502.6,291.2 L502.8,296.3 L503.0,291.0 L503.2,293.0 L503.4,290.0 L503.6,293.6 L503.8,288.4 L504.0,292.8 L504.2,293.2 L504.4,291.6 L504.6,292.9 L504.8,292.7 L505.0,296.0 L505.2,291.4 L505.4,295.5 L505.6,287.5 L505.8,292.6 L506.0,291.7 L506.2,291.7 L506.4,291.6 L506.6,292.1 L506.8,289.4 L507.0,290.3 L507.2,293.4 L507.4,291.1 L507.6,297.9 L507.8,294.2 L508.0,292.5 L508.2,288.3 L508.4,292.7 L508.6,293.3 L508.8,292.3 L509.0,294.1 L509.2,289.1 L509.4,289.0 L509.6,289.3 L509.8,290.2 L510.0,292.4 L510.2,292.0 L510.4,289.0 L510.6,288.4 L510.8,288.6 L511.0,291.5 L511.2,292.8 L511.4,292.4 L511.6,288.9 L511.8,286.7 L512.0,288.7 L512.2,290.5 L512.4,287.1 L512.6,291.6 L512.8,291.6 L513.0,290.1 L513.2,292.5 L513.4,290.5 L513.6,286.9 L513.8,292.1 L514.0,290.2 L514.2,291.7 L514.4,288.6 L514.6,288.1 L514.8,291.3 L515.0,289.8 L515.2,290.4 L515.4,290.2 L515.6,288.1 L515.8,284.9 L516.0,289.4 L516.2,289.5 L516.4,289.1 L516.6,289.1 L516.8,287.6 L517.0,289.6 L517.2,290.3 L517.4,287.0 L517.6,293.3 L517.8,285.3 L518.0,291.4 L518.2,287.3 L518.4,291.1 L518.6,285.6 L518.8,288.0 L519.0,290.2 L519.2,287.9 L519.4,291.1 L519.6,291.1 L519.8,286.1 L520.0,286.6 L520.2,289.5 L520.4,287.4 L520.6,287.4 L520.8,285.9 L521.0,284.4 L521.2,289.2 L521.4,287.7 L521.6,286.7 L521.8,286.0 L522.0,289.1 L522.2,291.5 L522.4,287.4 L522.6,290.7 L522.8,289.8 L523.0,288.1 L523.2,286.5 L523.4,291.1 L523.6,289.9 L523.8,284.1 L524.0,284.0 L524.2,288.5 L524.4,286.4 L524.6,289.6 L524.8,287.7 L525.0,289.1 L525.2,287.4 L525.4,285.8 L525.6,287.0 L525.8,288.0 L526.0,288.9 L526.2,292.1 L526.4,291.5 L526.6,287.9 L526.8,288.2 L527.0,284.7 L527.2,289.4 L527.4,287.6 L527.6,286.6 L527.8,290.2 L528.0,286.3 L528.2,287.0 L528.4,289.9 L528.6,290.2 L528.8,286.6 L529.0,285.0 L529.2,287.6 L529.4,285.9 L529.6,287.6 L529.8,285.4 L530.0,288.6 L530.2,288.3 L530.4,289.9 L530.6,288.5 L530.8,288.3 L531.0,287.8 L531.2,283.4 L531.4,288.1 L531.6,287.2 L531.8,290.1 L532.0,284.4 L532.2,286.4 L532.4,286.5 L532.6,288.2 L532.8,286.2 L533.0,288.1 L533.2,285.1 L533.4,287.0 L533.6,284.6 L533.8,287.4 L534.0,286.6 L534.2,287.4 L534.4,287.6 L534.6,288.1 L534.8,284.2 L535.0,288.7 L535.2,288.2 L535.4,288.1 L535.6,285.7 L535.8,285.2 L536.0,284.6 L536.2,287.0 L536.4,288.0 L536.6,285.5 L536.8,288.4 L537.0,285.1 L537.2,286.6 L537.4,286.2 L537.6,284.0 L537.8,288.3 L538.0,284.4 L538.2,286.4 L538.4,286.0 L538.6,285.3 L538.8,284.8 L539.0,287.2 L539.2,288.1 L539.4,285.1 L539.6,287.7 L539.8,286.7 L540.0,287.5 L540.2,285.6 L540.4,287.6 L540.6,289.1 L540.8,284.6 L541.0,286.2 L541.2,281.5 L541.4,287.1 L541.6,286.5 L541.8,285.9 L542.0,286.4 L542.2,284.8 L542.4,283.6 L542.6,285.0 L542.8,284.2 L543.0,283.3 L543.2,285.9 L543.4,284.1 L543.6,284.7 L543.8,284.4 L544.0,287.7 L544.2,285.8 L544.4,284.1 L544.6,285.5 L544.8,285.8 L545.0,283.6 L545.2,285.8 L545.4,283.1 L545.6,284.1 L545.8,284.6 L546.0,282.8 L546.2,284.5 L546.4,285.7 L546.6,287.8 L546.8,286.7 L547.0,282.9 L547.2,285.1 L547.4,287.1 L547.6,283.2 L547.8,286.8 L548.0,286.1 L548.2,284.4 L548.4,284.9 L548.6,284.3 L548.8,284.7 L549.0,283.2 L549.2,282.1 L549.4,283.7 L549.6,284.6 L549.8,282.0 L550.0,284.3 L550.2,286.6 L550.4,282.1 L550.6,285.2 L550.8,282.3 L551.0,283.8 L551.2,283.7 L551.4,285.5 L551.6,283.9 L551.8,282.2 L552.0,286.0 L552.2,285.7 L552.4,284.0 L552.6,285.8 L552.8,285.1 L553.0,283.5 L553.2,282.8 L553.4,283.5 L553.6,285.2 L553.8,283.9 L554.0,277.1 L554.2,285.1 L554.4,283.6 L554.6,283.9 L554.8,283.9 L555.0,284.4 L555.2,284.1 L555.4,284.6 L555.6,282.9 L555.8,285.3 L556.0,281.6 L556.2,286.3 L556.4,282.1 L556.6,283.6 L556.8,282.8 L557.0,282.9 L557.2,285.6 L557.4,283.8 L557.6,284.0 L557.8,282.0 L558.0,283.9 L558.2,285.1 L558.4,284.0 L558.6,285.3 L558.8,283.7 L559.0,283.6 L559.2,283.2 L559.4,282.3 L559.6,283.7 L559.8,283.7 L560.0,284.1 L560.2,282.3 L560.4,280.7 L560.6,286.1 L560.8,279.4 L561.0,281.7 L561.2,283.1 L561.4,280.2 L561.6,283.3 L561.8,282.4 L562.0,281.7 L562.2,284.6 L562.4,285.9 L562.6,283.4 L562.8,279.8 L563.0,282.9 L563.2,284.1 L563.4,282.7 L563.6,281.7 L563.8,280.9 L564.0,282.9 L564.2,282.1 L564.4,282.0 L564.6,282.0 L564.8,279.9 L565.0,278.6 L565.2,283.2 L565.4,281.5 L565.6,284.5 L565.8,281.9 L566.0,283.8 L566.2,280.6 L566.4,274.8 L566.6,283.8 L566.8,286.8 L567.0,283.7 L567.2,283.1 L567.4,279.7 L567.6,280.0 L567.8,281.8 L568.0,281.9 L568.2,280.9 L568.4,281.5 L568.6,282.6 L568.8,278.6 L569.0,280.1 L569.2,283.8 L569.4,281.3 L569.6,281.1 L569.8,283.0 L570.0,282.8 L570.2,280.4 L570.4,280.9 L570.6,278.7 L570.8,281.7 L571.0,282.9 L571.2,281.8 L571.4,282.2 L571.6,281.7 L571.8,280.9 L572.0,280.5 L572.2,278.4 L572.4,278.9 L572.6,280.6 L572.8,279.7 L573.0,279.1 L573.2,280.0 L573.4,280.3 L573.6,278.9 L573.8,281.4 L574.0,279.3 L574.2,281.2 L574.4,282.9 L574.6,280.7 L574.8,279.2 L575.0,278.6 L575.2,282.8 L575.4,277.8 L575.6,280.1 L575.8,280.7 L576.0,280.3 L576.2,281.3 L576.4,278.7 L576.6,280.4 L576.8,282.0 L577.0,277.8 L577.2,282.4 L577.4,279.7 L577.6,282.2 L577.8,280.8 L578.0,279.0 L578.2,278.4 L578.4,279.3 L578.6,279.3 L578.8,279.7 L579.0,283.1 L579.2,279.8 L579.4,281.0 L579.6,277.0 L579.8,280.5 L580.0,277.7 L580.2,282.6 L580.4,278.8 L580.6,278.9 L580.8,277.3 L581.0,278.2 L581.2,278.4 L581.4,278.9 L581.6,280.6 L581.8,278.1 L582.0,278.7 L582.2,281.6 L582.4,276.0 L582.6,280.2 L582.8,279.6 L583.0,279.7 L583.2,278.9 L583.4,277.3 L583.6,279.3 L583.8,275.5 L584.0,278.7 L584.2,282.8 L584.4,277.7 L584.6,279.4 L584.8,277.1 L585.0,280.3 L585.2,278.7 L585.4,279.3 L585.6,278.3 L585.8,278.3 L586.0,279.3 L586.2,278.7 L586.4,276.9 L586.6,277.7 L586.8,277.9 L587.0,279.4 L587.2,277.0 L587.4,275.0 L587.6,278.8 L587.8,278.2 L588.0,278.7 L588.2,276.0 L588.4,280.3 L588.6,277.5 L588.8,278.9 L589.0,277.5 L589.2,276.8 L589.4,276.4 L589.6,278.4 L589.8,278.1 L590.0,276.1 L590.2,275.7 L590.4,281.1 L590.6,279.6 L590.8,276.7 L591.0,278.1 L591.2,277.2 L591.4,278.1 L591.6,276.2 L591.8,277.0 L592.0,277.6 L592.2,278.0 L592.4,274.7 L592.6,276.1 L592.8,283.2 L593.0,277.6 L593.2,278.1 L593.4,278.4 L593.6,275.9 L593.8,279.5 L594.0,275.6 L594.2,274.1 L594.4,275.8 L594.6,275.3 L594.8,275.7 L595.0,276.7 L595.2,274.8 L595.4,275.7 L595.6,274.4 L595.8,279.1 L596.0,276.1 L596.2,274.0 L596.4,276.6 L596.6,276.4 L596.8,274.9 L597.0,276.9 L597.2,274.7 L597.4,272.7 L597.6,274.9 L597.8,275.9 L598.0,274.1 L598.2,275.9 L598.4,272.2 L598.6,275.4 L598.8,272.2 L599.0,274.4 L599.2,274.0 L599.4,273.0 L599.6,273.0 L599.8,273.7 L600.0,274.5 L600.2,272.8 L600.4,274.4 L600.6,273.8 L600.8,272.0 L601.0,273.1 L601.2,276.4 L601.4,275.3 L601.6,272.4 L601.8,271.4 L602.0,274.3 L602.2,272.9 L602.4,273.2 L602.6,272.1 L602.8,273.9 L603.0,274.3 L603.2,271.3 L603.4,273.6 L603.6,273.0 L603.8,270.2 L604.0,269.6 L604.2,272.5 L604.4,271.5 L604.6,270.5 L604.8,263.3 L605.0,271.2 L605.2,271.4 L605.4,270.0 L605.6,270.4 L605.8,273.5 L606.0,273.6 L606.2,271.2 L606.4,273.0 L606.6,272.0 L606.8,270.5 L607.0,271.2 L607.2,269.4 L607.4,270.2 L607.6,268.4 L607.8,273.9 L608.0,270.8 L608.2,269.9 L608.4,271.4 L608.6,271.3 L608.8,271.2 L609.0,269.4 L609.2,269.8 L609.4,270.3 L609.6,268.8 L609.8,267.9 L610.0,269.3 L610.2,267.1 L610.4,268.1 L610.6,269.5 L610.8,268.3 L611.0,268.3 L611.2,270.5 L611.4,266.4 L611.6,268.2 L611.8,271.0 L612.0,269.8 L612.2,268.3 L612.4,270.4 L612.6,269.9 L612.8,267.2 L613.0,268.9 L613.2,265.1 L613.4,265.9 L613.6,266.8 L613.8,262.7 L614.0,263.0 L614.2,271.1 L614.4,266.8 L614.6,267.1 L614.8,265.2 L615.0,265.9 L615.2,269.5 L615.4,265.1 L615.6,267.7 L615.8,266.1 L616.0,264.4 L616.2,267.3 L616.4,265.1 L616.6,264.8 L616.8,264.8 L617.0,263.8 L617.2,268.0 L617.4,264.9 L617.6,268.5 L617.8,264.0 L618.0,259.9 L618.2,263.9 L618.4,265.2 L618.6,262.7 L618.8,266.4 L619.0,267.1 L619.2,262.9 L619.4,263.2 L619.6,264.2 L619.8,265.0 L620.0,264.0 L620.2,263.1 L620.4,262.8 L620.6,265.9 L620.8,262.7 L621.0,262.7 L621.2,262.1 L621.4,262.4 L621.6,257.9 L621.8,259.3 L622.0,261.4 L622.2,260.7 L622.4,262.9 L622.6,261.0 L622.8,261.9 L623.0,262.3 L623.2,261.0 L623.4,259.4 L623.6,256.5 L623.8,261.3 L624.0,259.1 L624.2,258.3 L624.4,259.7 L624.6,257.4 L624.8,257.8 L625.0,257.9 L625.2,255.3 L625.4,257.5 L625.6,257.9 L625.8,259.5 L626.0,258.2 L626.2,260.7 L626.4,259.6 L626.6,256.9 L626.8,257.9 L627.0,258.9 L627.2,256.4 L627.4,258.8 L627.6,262.4 L627.8,255.4 L628.0,260.7 L628.2,256.6 L628.4,255.2 L628.6,254.9 L628.8,257.3 L629.0,255.0 L629.2,254.7 L629.4,258.3 L629.6,253.3 L629.8,258.2 L630.0,253.8 L630.2,256.8 L630.4,254.6 L630.6,252.2 L630.8,248.5 L631.0,255.8 L631.2,253.2 L631.4,250.4 L631.6,254.4 L631.8,250.4 L632.0,252.2 L632.2,262.2 L632.4,251.3 L632.6,253.6 L632.8,258.5 L633.0,249.6 L633.2,253.8 L633.4,253.2 L633.6,251.6 L633.8,249.8 L634.0,252.6 L634.2,247.3 L634.4,250.7 L634.6,248.1 L634.8,251.7 L635.0,249.2 L635.2,244.2 L635.4,246.2 L635.6,249.6 L635.8,248.4 L636.0,247.5 L636.2,249.7 L636.4,247.0 L636.6,248.1 L636.8,246.8 L637.0,245.0 L637.2,244.2 L637.4,248.5 L637.6,245.2 L637.8,250.0 L638.0,244.0 L638.2,247.3 L638.4,245.3 L638.6,246.4 L638.8,244.9 L639.0,242.3 L639.2,246.1 L639.4,242.1 L639.6,243.1 L639.8,245.1 L640.0,240.7 L640.2,240.2 L640.4,242.7 L640.6,243.2 L640.8,238.6 L641.0,243.3 L641.2,239.5 L641.4,238.1 L641.6,245.7 L641.8,241.4 L642.0,242.1 L642.2,248.2 L642.4,240.9 L642.6,240.9 L642.8,240.7 L643.0,240.6 L643.2,239.2 L643.4,241.9 L643.6,243.6 L643.8,239.9 L644.0,240.7 L644.2,239.0 L644.4,239.8 L644.6,242.2 L644.8,235.5 L645.0,237.9 L645.2,235.4 L645.4,235.3 L645.6,235.9 L645.8,237.5 L646.0,239.8 L646.2,233.0 L646.4,237.2 L646.6,237.7 L646.8,237.4 L647.0,231.8 L647.2,235.1 L647.4,237.8 L647.6,234.0 L647.8,235.2 L648.0,235.4 L648.2,235.3 L648.4,229.6 L648.6,232.9 L648.8,232.0 L649.0,232.7 L649.2,234.6 L649.4,233.5 L649.6,233.6 L649.8,232.8 L650.0,232.7 L650.2,231.7 L650.4,234.6 L650.6,232.9 L650.8,228.8 L651.0,230.2 L651.2,227.9 L651.4,231.3 L651.6,230.2 L651.8,226.8 L652.0,235.0 L652.2,227.6 L652.4,226.7 L652.6,227.6 L652.8,229.0 L653.0,231.6 L653.2,226.9 L653.4,224.2 L653.6,228.0 L653.8,225.5 L654.0,229.3 L654.2,224.7 L654.4,223.8 L654.6,226.8 L654.8,225.2 L655.0,225.9 L655.2,224.0 L655.4,227.5 L655.6,225.4 L655.8,225.2 L656.0,224.2 L656.2,226.5 L656.4,214.8 L656.6,224.1 L656.8,224.3 L657.0,225.6 L657.2,225.7 L657.4,222.5 L657.6,220.8 L657.8,220.1 L658.0,228.0 L658.2,223.4 L658.4,225.4 L658.6,223.2 L658.8,220.3 L659.0,226.3 L659.2,222.2 L659.4,219.7 L659.6,221.6 L659.8,220.1 L660.0,222.2 L660.2,220.9 L660.4,219.8 L660.6,218.2 L660.8,220.1 L661.0,216.4 L661.2,218.5 L661.4,219.7 L661.6,220.6 L661.8,222.1 L662.0,219.3 L662.2,219.6 L662.4,216.7 L662.6,222.4 L662.8,213.1 L663.0,213.5" fill="none" stroke="#800080" stroke-width="2.0" stroke-linejoin="round" opacity="1"/>
<path d="M477.0,319.3 L477.2,318.3 L477.4,317.9 L477.6,317.5 L477.8,316.4 L478.0,316.3 L478.2,315.5 L478.4,316.2 L478.6,315.2 L478.8,314.6 L479.0,314.1 L479.2,314.5 L479.4,312.2 L479.6,313.0 L479.8,313.0 L480.0,312.6 L480.2,312.1 L480.4,312.4 L480.6,311.1 L480.8,310.8 L481.0,311.0 L481.2,310.3 L481.4,310.4 L481.6,310.0 L481.8,310.1 L482.0,309.4 L482.2,308.8 L482.4,309.1 L482.6,308.6 L482.8,308.9 L483.0,308.8 L483.2,308.6 L483.4,307.5 L483.6,307.3 L483.8,308.6 L484.0,308.4 L484.2,308.3 L484.4,307.5 L484.6,307.8 L484.8,307.7 L485.0,307.2 L485.2,307.0 L485.4,306.7 L485.6,307.6 L485.8,307.0 L486.0,305.6 L486.2,305.7 L486.4,305.7 L486.6,306.2 L486.8,306.0 L487.0,305.9 L487.2,305.7 L487.4,304.7 L487.6,306.2 L487.8,304.3 L488.0,304.6 L488.2,303.7 L488.4,304.1 L488.6,304.2 L488.8,304.3 L489.0,304.9 L489.2,304.3 L489.4,304.3 L489.6,303.5 L489.8,303.8 L490.0,304.2 L490.2,303.6 L490.4,302.9 L490.6,303.8 L490.8,302.4 L491.0,304.4 L491.2,303.3 L491.4,302.7 L491.6,302.4 L491.8,302.9 L492.0,302.9 L492.2,302.2 L492.4,302.2 L492.6,302.8 L492.8,302.2 L493.0,301.0 L493.2,301.5 L493.4,301.6 L493.6,302.1 L493.8,301.9 L494.0,301.4 L494.2,300.8 L494.4,301.1 L494.6,301.1 L494.8,301.0 L495.0,300.5 L495.2,300.3 L495.4,301.0 L495.6,300.0 L495.8,300.9 L496.0,300.0 L496.2,301.1 L496.4,299.8 L496.6,300.5 L496.8,300.2 L497.0,300.4 L497.2,301.4 L497.4,300.2 L497.6,299.8 L497.8,299.6 L498.0,299.3 L498.2,299.2 L498.4,299.4 L498.6,298.8 L498.8,298.5 L499.0,299.7 L499.2,299.2 L499.4,298.5 L499.6,298.6 L499.8,299.1 L500.0,298.4 L500.2,298.0 L500.4,298.8 L500.6,298.1 L500.8,298.5 L501.0,298.3 L501.2,298.3 L501.4,297.6 L501.6,298.9 L501.8,297.5 L502.0,297.7 L502.2,297.4 L502.4,297.2 L502.6,296.6 L502.8,297.2 L503.0,296.9 L503.2,296.7 L503.4,296.3 L503.6,296.5 L503.8,295.7 L504.0,296.9 L504.2,297.9 L504.4,296.7 L504.6,296.8 L504.8,296.9 L505.0,295.7 L505.2,295.5 L505.4,296.2 L505.6,295.4 L505.8,295.8 L506.0,296.2 L506.2,296.1 L506.4,295.1 L506.6,295.6 L506.8,295.3 L507.0,294.8 L507.2,295.1 L507.4,295.0 L507.6,294.8 L507.8,295.4 L508.0,294.9 L508.2,294.8 L508.4,295.0 L508.6,294.8 L508.8,294.3 L509.0,295.5 L509.2,294.9 L509.4,295.2 L509.6,294.3 L509.8,294.0 L510.0,294.0 L510.2,294.3 L510.4,294.3 L510.6,294.1 L510.8,294.0 L511.0,293.7 L511.2,294.4 L511.4,293.8 L511.6,293.8 L511.8,294.2 L512.0,294.4 L512.2,294.0 L512.4,292.6 L512.6,293.9 L512.8,292.8 L513.0,293.6 L513.2,293.7 L513.4,293.4 L513.6,292.9 L513.8,293.6 L514.0,293.3 L514.2,292.8 L514.4,293.4 L514.6,292.6 L514.8,292.5 L515.0,292.7 L515.2,293.3 L515.4,293.0 L515.6,293.1 L515.8,293.6 L516.0,292.9 L516.2,293.1 L516.4,292.6 L516.6,291.7 L516.8,292.6 L517.0,291.8 L517.2,292.5 L517.4,292.2 L517.6,292.3 L517.8,292.0 L518.0,291.8 L518.2,292.2 L518.4,291.7 L518.6,291.4 L518.8,291.6 L519.0,291.6 L519.2,291.2 L519.4,291.4 L519.6,290.9 L519.8,291.6 L520.0,291.6 L520.2,291.1 L520.4,291.0 L520.6,291.3 L520.8,291.5 L521.0,290.8 L521.2,290.9 L521.4,290.5 L521.6,291.3 L521.8,291.3 L522.0,291.1 L522.2,290.7 L522.4,290.7 L522.6,290.4 L522.8,291.0 L523.0,290.7 L523.2,290.8 L523.4,291.7 L523.6,290.2 L523.8,290.5 L524.0,290.3 L524.2,290.8 L524.4,289.9 L524.6,290.0 L524.8,290.3 L525.0,290.8 L525.2,290.7 L525.4,289.9 L525.6,290.6 L525.8,290.1 L526.0,290.5 L526.2,290.3 L526.4,290.1 L526.6,289.8 L526.8,290.0 L527.0,289.8 L527.2,290.2 L527.4,289.4 L527.6,289.0 L527.8,289.9 L528.0,289.2 L528.2,289.2 L528.4,289.3 L528.6,289.0 L528.8,289.5 L529.0,289.4 L529.2,288.7 L529.4,289.1 L529.6,289.1 L529.8,288.8 L530.0,288.9 L530.2,288.5 L530.4,288.3 L530.6,288.7 L530.8,288.7 L531.0,288.7 L531.2,288.5 L531.4,288.7 L531.6,289.0 L531.8,288.6 L532.0,289.1 L532.2,287.9 L532.4,287.9 L532.6,288.1 L532.8,287.8 L533.0,288.3 L533.2,287.6 L533.4,289.2 L533.6,287.9 L533.8,287.7 L534.0,287.2 L534.2,287.3 L534.4,288.4 L534.6,288.1 L534.8,287.8 L535.0,288.5 L535.2,288.3 L535.4,287.8 L535.6,287.9 L535.8,287.1 L536.0,287.9 L536.2,287.0 L536.4,287.5 L536.6,287.4 L536.8,287.3 L537.0,287.5 L537.2,286.8 L537.4,287.8 L537.6,287.6 L537.8,287.6 L538.0,287.9 L538.2,287.4 L538.4,286.9 L538.6,287.1 L538.8,286.6 L539.0,286.7 L539.2,287.3 L539.4,286.9 L539.6,286.5 L539.8,288.0 L540.0,286.9 L540.2,287.1 L540.4,286.7 L540.6,287.3 L540.8,287.4 L541.0,286.6 L541.2,287.2 L541.4,287.0 L541.6,286.3 L541.8,286.9 L542.0,286.8 L542.2,286.1 L542.4,286.3 L542.6,286.9 L542.8,286.0 L543.0,286.1 L543.2,285.5 L543.4,286.1 L543.6,286.7 L543.8,286.1 L544.0,285.3 L544.2,285.7 L544.4,286.4 L544.6,286.4 L544.8,286.7 L545.0,286.7 L545.2,284.8 L545.4,286.9 L545.6,286.4 L545.8,285.8 L546.0,285.1 L546.2,286.0 L546.4,285.9 L546.6,285.2 L546.8,286.2 L547.0,285.7 L547.2,285.3 L547.4,285.0 L547.6,285.2 L547.8,285.4 L548.0,285.6 L548.2,285.4 L548.4,284.7 L548.6,285.5 L548.8,284.8 L549.0,285.0 L549.2,284.7 L549.4,285.3 L549.6,285.7 L549.8,284.6 L550.0,284.6 L550.2,284.4 L550.4,285.0 L550.6,284.5 L550.8,284.8 L551.0,284.9 L551.2,285.1 L551.4,285.3 L551.6,284.2 L551.8,285.7 L552.0,284.7 L552.2,284.1 L552.4,284.5 L552.6,285.1 L552.8,284.2 L553.0,284.7 L553.2,284.2 L553.4,284.5 L553.6,284.2 L553.8,284.5 L554.0,283.6 L554.2,284.7 L554.4,282.8 L554.6,284.1 L554.8,283.5 L555.0,283.8 L555.2,284.1 L555.4,284.4 L555.6,283.4 L555.8,282.6 L556.0,283.6 L556.2,284.2 L556.4,283.8 L556.6,283.8 L556.8,284.6 L557.0,284.0 L557.2,282.9 L557.4,283.4 L557.6,284.0 L557.8,283.4 L558.0,283.4 L558.2,284.2 L558.4,284.0 L558.6,283.4 L558.8,283.2 L559.0,283.2 L559.2,283.4 L559.4,282.7 L559.6,283.0 L559.8,282.9 L560.0,283.9 L560.2,283.3 L560.4,283.7 L560.6,282.9 L560.8,283.2 L561.0,283.1 L561.2,282.2 L561.4,283.6 L561.6,282.9 L561.8,282.9 L562.0,284.0 L562.2,282.6 L562.4,283.4 L562.6,283.4 L562.8,284.0 L563.0,282.8 L563.2,282.5 L563.4,282.8 L563.6,282.0 L563.8,282.5 L564.0,283.2 L564.2,281.9 L564.4,282.3 L564.6,282.4 L564.8,282.7 L565.0,282.6 L565.2,282.2 L565.4,283.1 L565.6,281.3 L565.8,282.5 L566.0,282.5 L566.2,282.2 L566.4,282.6 L566.6,282.4 L566.8,282.3 L567.0,282.7 L567.2,282.5 L567.4,282.2 L567.6,281.1 L567.8,282.0 L568.0,281.7 L568.2,282.0 L568.4,282.8 L568.6,282.3 L568.8,282.1 L569.0,281.5 L569.2,281.3 L569.4,282.0 L569.6,281.1 L569.8,282.4 L570.0,281.8 L570.2,281.0 L570.4,281.1 L570.6,281.3 L570.8,282.6 L571.0,280.4 L571.2,281.2 L571.4,280.6 L571.6,281.2 L571.8,280.5 L572.0,281.1 L572.2,281.2 L572.4,280.4 L572.6,280.9 L572.8,281.4 L573.0,281.7 L573.2,280.9 L573.4,281.1 L573.6,280.7 L573.8,280.2 L574.0,281.4 L574.2,281.2 L574.4,281.3 L574.6,280.0 L574.8,280.8 L575.0,280.6 L575.2,279.9 L575.4,280.6 L575.6,280.9 L575.8,280.9 L576.0,280.9 L576.2,280.0 L576.4,280.0 L576.6,280.3 L576.8,279.3 L577.0,280.2 L577.2,280.0 L577.4,280.0 L577.6,280.1 L577.8,280.3 L578.0,280.0 L578.2,280.8 L578.4,279.8 L578.6,280.1 L578.8,280.2 L579.0,280.1 L579.2,280.0 L579.4,279.9 L579.6,279.4 L579.8,280.0 L580.0,280.0 L580.2,279.8 L580.4,279.1 L580.6,279.8 L580.8,279.6 L581.0,279.5 L581.2,279.2 L581.4,279.8 L581.6,278.8 L581.8,279.8 L582.0,279.4 L582.2,279.1 L582.4,278.5 L582.6,278.2 L582.8,278.6 L583.0,279.4 L583.2,278.8 L583.4,279.6 L583.6,278.7 L583.8,278.8 L584.0,278.9 L584.2,278.6 L584.4,279.2 L584.6,278.8 L584.8,277.8 L585.0,279.1 L585.2,279.0 L585.4,278.4 L585.6,278.7 L585.8,278.3 L586.0,278.1 L586.2,277.7 L586.4,278.9 L586.6,277.7 L586.8,278.0 L587.0,277.8 L587.2,277.9 L587.4,278.0 L587.6,277.5 L587.8,277.4 L588.0,278.1 L588.2,279.6 L588.4,278.4 L588.6,277.8 L588.8,277.9 L589.0,278.0 L589.2,277.7 L589.4,278.5 L589.6,278.4 L589.8,277.8 L590.0,277.9 L590.2,277.4 L590.4,276.6 L590.6,276.2 L590.8,277.8 L591.0,277.7 L591.2,277.5 L591.4,277.2 L591.6,278.6 L591.8,277.8 L592.0,277.7 L592.2,276.8 L592.4,277.2 L592.6,277.2 L592.8,277.3 L593.0,277.1 L593.2,276.8 L593.4,277.7 L593.6,276.8 L593.8,276.3 L594.0,277.0 L594.2,277.1 L594.4,276.9 L594.6,275.9 L594.8,276.5 L595.0,276.0 L595.2,276.9 L595.4,276.6 L595.6,276.3 L595.8,276.2 L596.0,276.0 L596.2,277.1 L596.4,275.6 L596.6,276.3 L596.8,275.4 L597.0,275.8 L597.2,275.0 L597.4,276.0 L597.6,275.7 L597.8,275.6 L598.0,275.8 L598.2,275.6 L598.4,274.0 L598.6,274.5 L598.8,275.1 L599.0,274.7 L599.2,275.0 L599.4,275.0 L599.6,274.1 L599.8,274.3 L600.0,273.9 L600.2,273.9 L600.4,274.9 L600.6,273.8 L600.8,274.4 L601.0,274.3 L601.2,273.8 L601.4,273.1 L601.6,273.5 L601.8,272.8 L602.0,273.5 L602.2,273.1 L602.4,272.7 L602.6,273.4 L602.8,273.2 L603.0,273.3 L603.2,273.2 L603.4,272.8 L603.6,273.0 L603.8,273.3 L604.0,272.6 L604.2,272.4 L604.4,272.4 L604.6,271.5 L604.8,273.4 L605.0,272.4 L605.2,271.2 L605.4,272.0 L605.6,271.4 L605.8,271.2 L606.0,271.6 L606.2,271.1 L606.4,271.7 L606.6,271.1 L606.8,271.2 L607.0,271.3 L607.2,271.5 L607.4,270.9 L607.6,271.7 L607.8,271.1 L608.0,270.7 L608.2,271.1 L608.4,270.9 L608.6,270.5 L608.8,270.2 L609.0,270.5 L609.2,270.4 L609.4,270.3 L609.6,270.2 L609.8,269.8 L610.0,269.2 L610.2,269.7 L610.4,269.8 L610.6,268.9 L610.8,268.9 L611.0,268.9 L611.2,269.6 L611.4,268.7 L611.6,268.8 L611.8,269.0 L612.0,268.0 L612.2,267.4 L612.4,267.6 L612.6,269.0 L612.8,268.6 L613.0,268.5 L613.2,267.5 L613.4,267.6 L613.6,266.9 L613.8,267.4 L614.0,266.8 L614.2,267.1 L614.4,267.4 L614.6,266.9 L614.8,265.9 L615.0,266.3 L615.2,266.7 L615.4,266.2 L615.6,267.8 L615.8,265.8 L616.0,265.3 L616.2,265.8 L616.4,265.4 L616.6,266.3 L616.8,266.3 L617.0,265.0 L617.2,265.6 L617.4,265.7 L617.6,265.2 L617.8,263.3 L618.0,265.3 L618.2,265.2 L618.4,264.6 L618.6,264.3 L618.8,264.2 L619.0,264.2 L619.2,263.9 L619.4,263.0 L619.6,263.5 L619.8,263.2 L620.0,262.5 L620.2,262.9 L620.4,264.1 L620.6,263.0 L620.8,262.4 L621.0,263.2 L621.2,262.7 L621.4,262.0 L621.6,262.7 L621.8,261.7 L622.0,261.0 L622.2,260.9 L622.4,261.6 L622.6,260.9 L622.8,261.6 L623.0,260.3 L623.2,260.8 L623.4,260.2 L623.6,260.9 L623.8,259.3 L624.0,259.9 L624.2,259.6 L624.4,260.3 L624.6,259.5 L624.8,260.0 L625.0,259.3 L625.2,258.4 L625.4,258.1 L625.6,258.8 L625.8,258.7 L626.0,257.8 L626.2,258.4 L626.4,257.6 L626.6,257.6 L626.8,257.9 L627.0,257.8 L627.2,257.4 L627.4,256.9 L627.6,257.5 L627.8,257.0 L628.0,256.5 L628.2,256.0 L628.4,256.3 L628.6,256.1 L628.8,255.9 L629.0,256.0 L629.2,255.9 L629.4,256.5 L629.6,254.9 L629.8,255.4 L630.0,255.2 L630.2,254.8 L630.4,254.6 L630.6,254.2 L630.8,253.7 L631.0,253.8 L631.2,251.8 L631.4,253.3 L631.6,251.7 L631.8,252.7 L632.0,253.6 L632.2,253.0 L632.4,254.0 L632.6,252.0 L632.8,252.7 L633.0,252.1 L633.2,251.3 L633.4,252.2 L633.6,251.1 L633.8,252.0 L634.0,250.2 L634.2,251.1 L634.4,250.4 L634.6,250.5 L634.8,249.8 L635.0,249.2 L635.2,250.1 L635.4,249.0 L635.6,249.0 L635.8,248.2 L636.0,248.6 L636.2,247.8 L636.4,248.2 L636.6,247.5 L636.8,248.3 L637.0,246.8 L637.2,247.9 L637.4,246.7 L637.6,247.1 L637.8,247.1 L638.0,246.5 L638.2,246.6 L638.4,245.5 L638.6,245.5 L638.8,244.7 L639.0,245.8 L639.2,244.3 L639.4,244.2 L639.6,244.6 L639.8,243.1 L640.0,244.4 L640.2,244.1 L640.4,243.5 L640.6,243.0 L640.8,242.9 L641.0,242.8 L641.2,242.4 L641.4,241.6 L641.6,239.6 L641.8,242.5 L642.0,241.5 L642.2,241.9 L642.4,241.1 L642.6,241.0 L642.8,240.0 L643.0,240.3 L643.2,240.7 L643.4,241.4 L643.6,240.4 L643.8,239.4 L644.0,239.1 L644.2,238.8 L644.4,239.3 L644.6,239.0 L644.8,237.9 L645.0,238.2 L645.2,238.0 L645.4,237.9 L645.6,237.9 L645.8,237.1 L646.0,236.5 L646.2,236.6 L646.4,236.5 L646.6,235.6 L646.8,235.6 L647.0,236.9 L647.2,235.5 L647.4,236.0 L647.6,233.7 L647.8,234.4 L648.0,234.1 L648.2,234.8 L648.4,234.6 L648.6,233.9 L648.8,233.5 L649.0,233.5 L649.2,232.9 L649.4,232.5 L649.6,232.1 L649.8,232.8 L650.0,232.1 L650.2,232.4 L650.4,231.7 L650.6,231.1 L650.8,230.8 L651.0,231.1 L651.2,230.7 L651.4,230.3 L651.6,229.4 L651.8,229.5 L652.0,229.1 L652.2,229.2 L652.4,229.5 L652.6,228.6 L652.8,229.0 L653.0,227.9 L653.2,228.8 L653.4,227.8 L653.6,228.3 L653.8,227.2 L654.0,227.3 L654.2,227.1 L654.4,227.1 L654.6,227.3 L654.8,225.7 L655.0,225.8 L655.2,225.9 L655.4,226.0 L655.6,225.7 L655.8,225.0 L656.0,225.4 L656.2,223.9 L656.4,224.4 L656.6,224.2 L656.8,224.4 L657.0,224.5 L657.2,223.3 L657.4,223.9 L657.6,223.4 L657.8,223.5 L658.0,223.1 L658.2,221.4 L658.4,222.9 L658.6,221.4 L658.8,221.6 L659.0,221.3 L659.2,220.5 L659.4,219.8 L659.6,220.7 L659.8,220.4 L660.0,220.5 L660.2,220.1 L660.4,219.2 L660.6,220.1 L660.8,219.6 L661.0,219.3 L661.2,219.2 L661.4,218.3 L661.6,218.3 L661.8,218.0 L662.0,218.1 L662.2,218.2 L662.4,218.1 L662.6,217.8 L662.8,217.9 L663.0,218.0" fill="none" stroke="#22e622" stroke-width="1.5" stroke-linejoin="round" opacity="1"/>
<path d="M545.0,287.4 L545.6,285.1 L546.2,282.6 L546.8,284.1 L547.4,280.5 L548.0,282.5 L548.6,285.5 L549.2,284.5 L549.8,284.9 L550.4,285.9 L551.0,283.5 L551.6,283.4 L552.2,282.1 L552.8,282.7 L553.4,288.6 L554.0,283.7 L554.6,284.3 L555.2,284.3 L555.8,280.9 L556.4,278.3 L557.0,285.8 L557.6,285.0 L558.2,282.3 L558.8,282.8 L559.4,282.6 L560.0,283.2 L560.6,283.6 L561.2,285.8 L561.8,285.0 L562.4,282.3 L563.0,280.3 L563.6,279.2 L564.2,279.8 L564.8,285.1 L565.4,282.5 L566.0,283.2 L566.6,278.4 L567.2,285.2 L567.8,285.1 L568.4,283.0 L569.0,284.0 L569.6,280.9 L570.2,283.5 L570.8,279.7 L571.4,285.0 L572.0,284.8 L572.6,279.4 L573.2,282.1 L573.8,281.0 L574.4,279.4 L575.0,278.9 L575.6,282.1 L576.2,277.4 L576.8,284.6 L577.4,279.6 L578.0,280.4 L578.6,279.4 L579.2,280.7 L579.8,282.7 L580.4,285.4 L581.0,275.4 L581.6,279.9 L582.2,276.9 L582.8,278.7 L583.4,278.0 L584.0,277.9 L584.6,279.5 L585.2,277.5 L585.8,278.5 L586.4,279.1 L587.0,277.7 L587.6,278.8 L588.2,280.5 L588.8,278.6 L589.4,279.7 L590.0,277.5 L590.6,279.2 L591.2,274.9 L591.8,277.9 L592.4,280.0 L593.0,279.2 L593.6,276.1 L594.2,276.7 L594.8,276.4 L595.4,274.8 L596.0,274.9 L596.6,277.9 L597.2,279.5 L597.8,269.3 L598.4,276.9 L599.0,276.8 L599.6,275.0 L600.2,274.3 L600.8,271.2 L601.4,272.6 L602.0,271.0 L602.6,275.4 L603.2,273.6 L603.8,274.4 L604.4,270.5 L605.0,277.0 L605.6,270.8 L606.2,269.3 L606.8,273.3 L607.4,272.3 L608.0,270.0 L608.6,268.2 L609.2,269.1 L609.8,267.2 L610.4,269.4 L611.0,272.0 L611.6,270.0 L612.2,267.2 L612.8,271.9 L613.4,266.8 L614.0,264.5 L614.6,267.4 L615.2,267.5 L615.8,265.1 L616.4,266.4 L617.0,266.6 L617.6,263.4 L618.2,263.1 L618.8,263.7 L619.4,261.9 L620.0,265.3 L620.6,266.1 L621.2,260.2 L621.8,263.9 L622.4,266.4 L623.0,259.7 L623.6,260.4 L624.2,258.2 L624.8,259.7 L625.4,257.9 L626.0,256.5 L626.6,256.5 L627.2,256.6 L627.8,254.4 L628.4,256.3 L629.0,255.7 L629.6,255.7 L630.2,250.1 L630.8,251.4 L631.4,256.0 L632.0,251.7 L632.6,256.1 L633.2,249.7 L633.8,252.0 L634.4,248.7 L635.0,251.3 L635.6,248.8 L636.2,245.8 L636.8,246.2 L637.4,246.2 L638.0,245.3 L638.6,246.4 L639.2,245.5 L639.8,243.6 L640.4,241.1 L641.0,244.3 L641.6,243.3 L642.2,241.9 L642.8,240.7 L643.4,237.9 L644.0,235.2 L644.6,236.6 L645.2,236.1 L645.8,232.9 L646.4,238.4 L647.0,237.3 L647.6,234.4 L648.2,235.2 L648.8,232.2 L649.4,228.2 L650.0,232.3 L650.6,229.6 L651.2,229.8 L651.8,229.8 L652.4,224.9 L653.0,229.2 L653.6,227.6 L654.2,226.7 L654.8,229.9 L655.4,226.7 L656.0,224.4 L656.6,225.9 L657.2,224.7 L657.8,225.2 L658.4,222.8 L659.0,221.0 L659.6,218.9 L660.2,221.5 L660.8,216.6 L661.4,217.1 L662.0,213.7 L662.6,218.4" fill="none" stroke="#800080" stroke-width="0.3" stroke-linejoin="round" opacity="0.6"/>
<path d="M573.0,321.9 L573.2,321.1 L573.5,319.7 L573.8,320.2 L574.0,319.1 L574.2,318.4 L574.5,318.0 L574.8,318.2 L575.0,316.6 L575.2,316.7 L575.5,316.4 L575.8,315.3 L576.0,315.1 L576.2,313.8 L576.5,313.2 L576.8,313.0 L577.0,313.2 L577.2,311.8 L577.5,312.2 L577.8,310.5 L578.0,310.1 L578.2,309.6 L578.5,309.0 L578.8,308.3 L579.0,307.5 L579.2,309.2 L579.5,307.6 L579.8,306.0 L580.0,306.9 L580.2,305.2 L580.5,306.3 L580.8,305.0 L581.0,301.9 L581.2,303.9 L581.5,303.2 L581.8,303.4 L582.0,302.6 L582.2,300.9 L582.5,301.5 L582.8,299.4 L583.0,300.1 L583.2,299.6 L583.5,298.8 L583.8,299.2 L584.0,297.6 L584.2,297.0 L584.5,297.0 L584.8,296.8 L585.0,297.1 L585.2,295.8 L585.5,296.0 L585.8,293.7 L586.0,294.6 L586.2,293.0 L586.5,293.4 L586.8,292.0 L587.0,291.8 L587.2,291.7 L587.5,291.1 L587.8,290.5 L588.0,290.5 L588.2,290.1 L588.5,289.1 L588.8,288.7 L589.0,287.6 L589.2,287.2 L589.5,288.0 L589.8,286.5 L590.0,286.1 L590.2,285.2 L590.5,284.2 L590.8,285.6 L591.0,284.4 L591.2,283.7 L591.5,283.8 L591.8,282.9 L592.0,282.8 L592.2,282.9 L592.5,281.8 L592.8,280.6 L593.0,280.8 L593.2,280.5 L593.5,281.1 L593.8,279.3 L594.0,278.8 L594.2,278.8 L594.5,277.9 L594.8,277.0 L595.0,277.4 L595.2,275.9 L595.5,275.3 L595.8,273.1 L596.0,273.7 L596.2,272.9 L596.5,271.5 L596.8,270.1 L597.0,269.3 L597.2,269.6 L597.5,267.5 L597.8,267.2 L598.0,266.3 L598.2,263.6 L598.5,264.4 L598.8,263.0 L599.0,263.5 L599.2,260.6 L599.5,259.8 L599.8,259.2 L600.0,258.0 L600.2,257.5 L600.5,256.0 L600.8,254.9 L601.0,254.2 L601.2,252.2 L601.5,251.3 L601.8,250.7 L602.0,247.9 L602.2,247.1 L602.5,245.0 L602.8,245.0 L603.0,242.4 L603.2,241.4 L603.5,239.6 L603.8,239.3 L604.0,236.9 L604.2,236.1 L604.5,235.4 L604.8,234.0 L605.0,230.5 L605.2,230.5 L605.5,228.9 L605.8,228.3 L606.0,226.1 L606.2,223.3 L606.5,223.6 L606.8,221.6 L607.0,222.3 L607.2,218.7 L607.5,218.4 L607.8,216.8 L608.0,214.9 L608.2,212.9 L608.5,210.0 L608.8,209.7 L609.0,208.3 L609.2,207.2 L609.5,205.7 L609.8,203.8 L610.0,202.3 L610.2,200.7 L610.5,199.1 L610.8,198.6 L611.0,196.3 L611.2,194.7 L611.5,194.2" fill="none" stroke="#1c1cd8" stroke-width="1.7" stroke-linejoin="round" opacity="1"/>
<line x1="663.00" y1="203.50" x2="663.00" y2="217.00" stroke="#800080" stroke-width="1.1" />
<path d="M571.5,321.2 l3,-3.6 l3,3.6 z" fill="#1c1cd8"/>
<line x1="75.30" y1="370.30" x2="75.30" y2="584.30" stroke="#000" stroke-width="1.4" />
<line x1="71.80" y1="370.30" x2="76.00" y2="370.30" stroke="#000" stroke-width="1.3" />
<line x1="67.80" y1="584.30" x2="174.80" y2="584.30" stroke="#000" stroke-width="1.4" />
<line x1="68.30" y1="413.00" x2="75.30" y2="413.00" stroke="#000" stroke-width="1.3" />
<text x="61.10" y="418.00" font-size="14.7" text-anchor="end" font-weight="normal" >10</text>
<line x1="68.30" y1="498.50" x2="75.30" y2="498.50" stroke="#000" stroke-width="1.3" />
<text x="61.10" y="503.50" font-size="14.7" text-anchor="end" font-weight="normal" >5</text>
<line x1="68.30" y1="584.30" x2="75.30" y2="584.30" stroke="#000" stroke-width="1.3" />
<text x="61.10" y="589.30" font-size="14.7" text-anchor="end" font-weight="normal" >0</text>
<line x1="71.50" y1="455.70" x2="75.30" y2="455.70" stroke="#000" stroke-width="1.3" />
<line x1="71.50" y1="541.40" x2="75.30" y2="541.40" stroke="#000" stroke-width="1.3" />
<rect x="79.7" y="417.0" width="40.30" height="167.30" fill="#000"/>
<rect x="129.6" y="447.0" width="40.40" height="137.30" fill="#000"/>
<line x1="99.70" y1="379.80" x2="99.70" y2="418.00" stroke="#000" stroke-width="1.2" />
<line x1="94.70" y1="379.80" x2="104.70" y2="379.80" stroke="#000" stroke-width="1.3" />
<line x1="99.70" y1="584.30" x2="99.70" y2="590.00" stroke="#000" stroke-width="1.3" />
<line x1="149.80" y1="423.60" x2="149.80" y2="448.00" stroke="#000" stroke-width="1.2" />
<line x1="144.80" y1="423.60" x2="154.80" y2="423.60" stroke="#000" stroke-width="1.3" />
<line x1="149.80" y1="584.30" x2="149.80" y2="590.00" stroke="#000" stroke-width="1.3" />
<text transform="translate(34.2,481.0) rotate(-90)" font-size="14.7" text-anchor="middle">Reversal potential (mV)</text>
<text transform="translate(108.6,603.9) rotate(-45)" font-size="14.7" text-anchor="end">LPS</text>
<text transform="translate(158.6,605.2) rotate(-45)" font-size="14.7" text-anchor="end">GSK</text>
<line x1="251.50" y1="370.30" x2="251.50" y2="584.30" stroke="#000" stroke-width="1.4" />
<line x1="248.00" y1="370.30" x2="252.20" y2="370.30" stroke="#000" stroke-width="1.3" />
<line x1="244.40" y1="584.30" x2="351.00" y2="584.30" stroke="#000" stroke-width="1.4" />
<line x1="244.50" y1="413.30" x2="251.50" y2="413.30" stroke="#000" stroke-width="1.3" />
<text x="237.30" y="418.30" font-size="14.7" text-anchor="end" font-weight="normal" >2</text>
<line x1="244.50" y1="498.50" x2="251.50" y2="498.50" stroke="#000" stroke-width="1.3" />
<text x="237.30" y="503.50" font-size="14.7" text-anchor="end" font-weight="normal" >1</text>
<line x1="244.50" y1="584.30" x2="251.50" y2="584.30" stroke="#000" stroke-width="1.3" />
<text x="237.30" y="589.30" font-size="14.7" text-anchor="end" font-weight="normal" >0</text>
<line x1="247.70" y1="455.70" x2="251.50" y2="455.70" stroke="#000" stroke-width="1.3" />
<line x1="247.70" y1="541.40" x2="251.50" y2="541.40" stroke="#000" stroke-width="1.3" />
<rect x="255.5" y="417.2" width="40.50" height="167.10" fill="#000"/>
<rect x="305.2" y="411.8" width="40.80" height="172.50" fill="#000"/>
<line x1="275.80" y1="395.50" x2="275.80" y2="418.00" stroke="#000" stroke-width="1.2" />
<line x1="270.80" y1="395.50" x2="280.80" y2="395.50" stroke="#000" stroke-width="1.3" />
<line x1="275.80" y1="584.30" x2="275.80" y2="590.00" stroke="#000" stroke-width="1.3" />
<line x1="325.80" y1="396.30" x2="325.80" y2="413.00" stroke="#000" stroke-width="1.2" />
<line x1="320.80" y1="396.30" x2="330.80" y2="396.30" stroke="#000" stroke-width="1.3" />
<line x1="325.80" y1="584.30" x2="325.80" y2="590.00" stroke="#000" stroke-width="1.3" />
<text transform="translate(214.6,475.0) rotate(-90)" font-size="14.7" text-anchor="middle">Rectification index</text>
<text transform="translate(284.5,604.1) rotate(-45)" font-size="14.7" text-anchor="end">LPS</text>
<text transform="translate(334.3,605.2) rotate(-45)" font-size="14.7" text-anchor="end">GSK</text>
<line x1="442.70" y1="370.40" x2="442.70" y2="584.30" stroke="#000" stroke-width="1.4" />
<line x1="439.20" y1="370.40" x2="443.40" y2="370.40" stroke="#000" stroke-width="1.3" />
<line x1="439.20" y1="584.30" x2="443.40" y2="584.30" stroke="#000" stroke-width="1.3" />
<line x1="436.30" y1="504.10" x2="685.00" y2="504.10" stroke="#000" stroke-width="1.4" />
<line x1="436.30" y1="557.50" x2="442.70" y2="557.50" stroke="#000" stroke-width="1.3" />
<text x="428.00" y="562.50" font-size="14.7" text-anchor="end" font-weight="normal" >−20</text>
<line x1="439.10" y1="530.80" x2="442.70" y2="530.80" stroke="#000" stroke-width="1.3" />
<line x1="439.10" y1="477.40" x2="442.70" y2="477.40" stroke="#000" stroke-width="1.3" />
<line x1="436.30" y1="450.70" x2="442.70" y2="450.70" stroke="#000" stroke-width="1.3" />
<text x="428.00" y="455.70" font-size="14.7" text-anchor="end" font-weight="normal" >20</text>
<line x1="439.10" y1="424.00" x2="442.70" y2="424.00" stroke="#000" stroke-width="1.3" />
<line x1="436.30" y1="397.30" x2="442.70" y2="397.30" stroke="#000" stroke-width="1.3" />
<text x="428.00" y="402.30" font-size="14.7" text-anchor="end" font-weight="normal" >40</text>
<text x="428.00" y="509.10" font-size="14.7" text-anchor="end" font-weight="normal" >0</text>
<text transform="translate(390.0,479.0) rotate(-90)" font-size="14.7" text-anchor="middle">ΔCurrent (pA)</text>
<rect x="454.4" y="404.6" width="45.9" height="99.50" fill="#000"/>
<line x1="477.70" y1="380.00" x2="477.70" y2="405.00" stroke="#000" stroke-width="1.2" />
<line x1="472.70" y1="380.00" x2="482.90" y2="380.00" stroke="#000" stroke-width="1.3" />
<rect x="506.3" y="504.1" width="45.3" height="13.8" fill="#808080" stroke="#000" stroke-width="1.2"/>
<line x1="529.30" y1="518.00" x2="529.30" y2="536.30" stroke="#000" stroke-width="1.2" />
<line x1="524.50" y1="536.30" x2="534.20" y2="536.30" stroke="#000" stroke-width="1.3" />
<line x1="503.30" y1="504.10" x2="503.30" y2="510.20" stroke="#000" stroke-width="1.3" />
<rect x="575.3" y="504.1" width="45.9" height="56.50" fill="#000"/>
<line x1="598.10" y1="560.00" x2="598.10" y2="572.30" stroke="#000" stroke-width="1.2" />
<line x1="593.10" y1="572.30" x2="603.20" y2="572.30" stroke="#000" stroke-width="1.3" />
<rect x="627.0" y="504.1" width="45.6" height="12.3" fill="#808080" stroke="#000" stroke-width="1.2"/>
<line x1="649.80" y1="516.50" x2="649.80" y2="520.60" stroke="#000" stroke-width="1.2" />
<line x1="644.80" y1="520.60" x2="654.80" y2="520.60" stroke="#000" stroke-width="1.3" />
<line x1="623.20" y1="504.10" x2="623.20" y2="510.20" stroke="#000" stroke-width="1.3" />
<path d="M490.6,398.4 V391.9 H529.2 V482.3" fill="none" stroke="#000" stroke-width="1.2"/>
<path d="M609.3,566.3 V571.8 H648.8 V548.2" fill="none" stroke="#000" stroke-width="1.2"/>
<text x="477.40" y="372.40" font-size="14" text-anchor="middle" font-weight="normal" >##</text>
<text x="509.60" y="390.20" font-size="16.5" text-anchor="middle" font-weight="normal" >**</text>
<text x="648.40" y="540.80" font-size="14" text-anchor="middle" font-weight="normal" >#</text>
<text x="598.60" y="588.60" font-size="14" text-anchor="middle" font-weight="normal" >#</text>
<text x="628.40" y="592.00" font-size="16.5" text-anchor="middle" font-weight="normal" >*</text>
<text x="467.00" y="559.50" font-size="14.7" text-anchor="start" font-weight="normal" >+100 mV</text>
<text x="586.60" y="490.30" font-size="14.7" text-anchor="start" font-weight="normal" >−100 mV</text>
<rect x="569.1" y="378" width="34" height="16.6" fill="#000"/>
<rect x="569.7" y="397.0" width="32.8" height="15.8" fill="#808080" stroke="#000" stroke-width="1.2"/>
<text x="610.40" y="391.70" font-size="14.7" text-anchor="start" font-weight="normal" >LPS</text>
<text x="610.40" y="409.00" font-size="14.7" text-anchor="start" font-weight="normal" >HC + LPS</text>
</svg>
</body></html>
